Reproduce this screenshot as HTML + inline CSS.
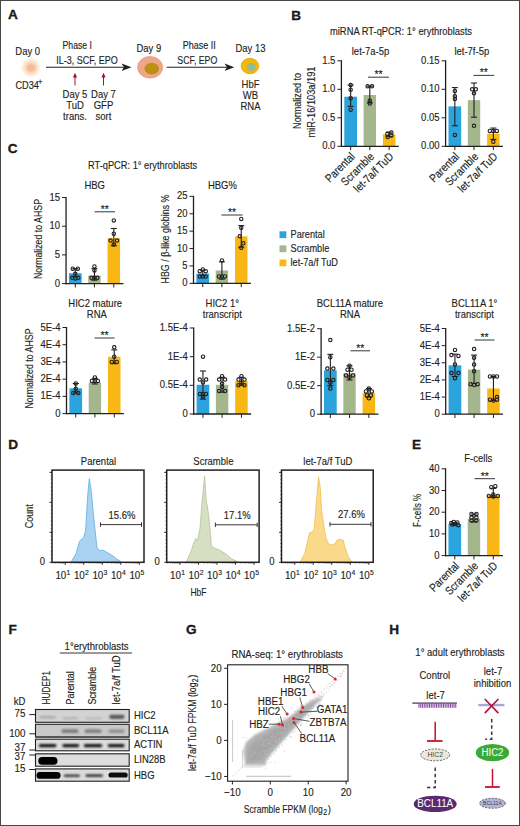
<!DOCTYPE html>
<html><head><meta charset="utf-8"><style>
html,body{margin:0;padding:0;background:#fff;}
body{width:520px;height:826px;overflow:hidden;position:relative;font-family:"Liberation Sans", sans-serif;}
svg{position:absolute;left:0;top:0;}
text{font-family:"Liberation Sans", sans-serif;}
.fr{position:absolute;left:0;top:0;width:518px;height:824px;border:1px solid #474747;}
</style></head><body>
<svg width="520" height="826" viewBox="0 0 520 826">
<defs>
<filter id="blur" x="-50%" y="-100%" width="200%" height="300%"><feGaussianBlur stdDeviation="0.85"/></filter>
<filter id="blur3" x="-50%" y="-100%" width="200%" height="300%"><feGaussianBlur stdDeviation="0.75"/></filter>
<filter id="blur2" x="-10%" y="-10%" width="120%" height="120%"><feGaussianBlur stdDeviation="0.8"/></filter>
<filter id="blur5" x="-50%" y="-50%" width="200%" height="200%"><feGaussianBlur stdDeviation="1.0"/></filter>
<filter id="blur4" x="-10%" y="-10%" width="120%" height="120%"><feGaussianBlur stdDeviation="1.5"/></filter>
</defs>
<text x="8.00" y="19.00" font-size="13.6" text-anchor="start" fill="#231f20" font-weight="bold" stroke="#000" stroke-width="0.3">A</text>
<text x="27.70" y="55.00" font-size="9.5" text-anchor="middle" fill="#231f20" stroke="#231f20" stroke-width="0.13" transform="translate(27.70 55.00) scale(1 1.17) translate(-27.70 -55.00)">Day 0</text>
<ellipse cx="30.80" cy="67.50" rx="8.60" ry="8.40" fill="#fce4cc" stroke="none" stroke-width="0.8" filter="url(#blur5)"/>
<ellipse cx="31.00" cy="67.80" rx="5.00" ry="4.60" fill="#f3bc9c" stroke="none" stroke-width="0.8" filter="url(#blur5)"/>
<text x="15.40" y="88.60" font-size="9.2" text-anchor="start" fill="#231f20" stroke="#231f20" stroke-width="0.13" transform="translate(15.40 88.60) scale(1 1.17) translate(-15.40 -88.60)">CD34</text>
<text x="38.00" y="85.00" font-size="7.5" text-anchor="start" fill="#231f20" stroke="#231f20" stroke-width="0.13" transform="translate(38.00 85.00) scale(1 1.17) translate(-38.00 -85.00)">+</text>
<line x1="46.00" y1="67.20" x2="124.00" y2="67.20" stroke="#231f20" stroke-width="1.1"/>
<path d="M121.5,63.5 L131.5,67.2 L121.5,71 L124,67.2 Z" fill="#231f20" stroke="none" stroke-width="1"/>
<text x="77.30" y="49.00" font-size="9.5" text-anchor="middle" fill="#231f20" stroke="#231f20" stroke-width="0.13" transform="translate(77.30 49.00) scale(1 1.17) translate(-77.30 -49.00)" textLength="29.50" lengthAdjust="spacingAndGlyphs">Phase I</text>
<text x="86.90" y="64.00" font-size="9.5" text-anchor="middle" fill="#231f20" stroke="#231f20" stroke-width="0.13" transform="translate(86.90 64.00) scale(1 1.17) translate(-86.90 -64.00)" textLength="61.50" lengthAdjust="spacingAndGlyphs">IL-3, SCF, EPO</text>
<line x1="75.00" y1="76.00" x2="75.00" y2="85.50" stroke="#a8102c" stroke-width="1.0"/>
<path d="M72.9,77.6 L75.0,72.8 L77.1,77.6 Z" fill="#a8102c" stroke="none" stroke-width="1"/>
<line x1="103.50" y1="76.00" x2="103.50" y2="85.50" stroke="#a8102c" stroke-width="1.0"/>
<path d="M101.4,77.6 L103.5,72.8 L105.6,77.6 Z" fill="#a8102c" stroke="none" stroke-width="1"/>
<text x="75.00" y="98.00" font-size="9.5" text-anchor="middle" fill="#231f20" stroke="#231f20" stroke-width="0.13" transform="translate(75.00 98.00) scale(1 1.17) translate(-75.00 -98.00)">Day 5</text>
<text x="75.00" y="109.00" font-size="9.5" text-anchor="middle" fill="#231f20" stroke="#231f20" stroke-width="0.13" transform="translate(75.00 109.00) scale(1 1.17) translate(-75.00 -109.00)">TuD</text>
<text x="75.00" y="120.20" font-size="9.5" text-anchor="middle" fill="#231f20" stroke="#231f20" stroke-width="0.13" transform="translate(75.00 120.20) scale(1 1.17) translate(-75.00 -120.20)">trans.</text>
<text x="103.50" y="98.00" font-size="9.5" text-anchor="middle" fill="#231f20" stroke="#231f20" stroke-width="0.13" transform="translate(103.50 98.00) scale(1 1.17) translate(-103.50 -98.00)">Day 7</text>
<text x="103.50" y="109.00" font-size="9.5" text-anchor="middle" fill="#231f20" stroke="#231f20" stroke-width="0.13" transform="translate(103.50 109.00) scale(1 1.17) translate(-103.50 -109.00)">GFP</text>
<text x="103.50" y="120.20" font-size="9.5" text-anchor="middle" fill="#231f20" stroke="#231f20" stroke-width="0.13" transform="translate(103.50 120.20) scale(1 1.17) translate(-103.50 -120.20)">sort</text>
<text x="148.80" y="52.00" font-size="9.5" text-anchor="middle" fill="#231f20" stroke="#231f20" stroke-width="0.13" transform="translate(148.80 52.00) scale(1 1.17) translate(-148.80 -52.00)">Day 9</text>
<ellipse cx="150.10" cy="67.30" rx="12.60" ry="10.80" fill="#eea786" stroke="#e79a80" stroke-width="0.8"/>
<ellipse cx="151.70" cy="68.60" rx="6.80" ry="5.40" fill="#bf8f12" stroke="#a97f1e" stroke-width="0.6"/>
<text x="199.20" y="49.00" font-size="9.5" text-anchor="middle" fill="#231f20" stroke="#231f20" stroke-width="0.13" transform="translate(199.20 49.00) scale(1 1.17) translate(-199.20 -49.00)" textLength="33.00" lengthAdjust="spacingAndGlyphs">Phase II</text>
<text x="197.30" y="64.00" font-size="9.5" text-anchor="middle" fill="#231f20" stroke="#231f20" stroke-width="0.13" transform="translate(197.30 64.00) scale(1 1.17) translate(-197.30 -64.00)" textLength="40.00" lengthAdjust="spacingAndGlyphs">SCF, EPO</text>
<line x1="166.70" y1="67.20" x2="227.00" y2="67.20" stroke="#231f20" stroke-width="1.1"/>
<path d="M224.5,63.5 L234.3,67.2 L224.5,71 L227,67.2 Z" fill="#231f20" stroke="none" stroke-width="1"/>
<text x="250.50" y="52.30" font-size="9.5" text-anchor="middle" fill="#231f20" stroke="#231f20" stroke-width="0.13" transform="translate(250.50 52.30) scale(1 1.17) translate(-250.50 -52.30)">Day 13</text>
<ellipse cx="249.90" cy="66.00" rx="8.80" ry="7.80" fill="#f4b800" stroke="#e9a513" stroke-width="0.8"/>
<ellipse cx="251.20" cy="67.00" rx="4.50" ry="4.20" fill="#92bb90" stroke="#d9b060" stroke-width="0.5"/>
<text x="250.50" y="87.70" font-size="9.5" text-anchor="middle" fill="#231f20" stroke="#231f20" stroke-width="0.13" transform="translate(250.50 87.70) scale(1 1.17) translate(-250.50 -87.70)">HbF</text>
<text x="250.50" y="99.00" font-size="9.5" text-anchor="middle" fill="#231f20" stroke="#231f20" stroke-width="0.13" transform="translate(250.50 99.00) scale(1 1.17) translate(-250.50 -99.00)">WB</text>
<text x="250.50" y="110.30" font-size="9.5" text-anchor="middle" fill="#231f20" stroke="#231f20" stroke-width="0.13" transform="translate(250.50 110.30) scale(1 1.17) translate(-250.50 -110.30)">RNA</text>
<text x="291.20" y="19.50" font-size="13.6" text-anchor="start" fill="#231f20" font-weight="bold" stroke="#000" stroke-width="0.3">B</text>
<text x="401.00" y="35.00" font-size="9.5" text-anchor="middle" fill="#231f20" stroke="#231f20" stroke-width="0.13" transform="translate(401.00 35.00) scale(1 1.17) translate(-401.00 -35.00)" textLength="142.00" lengthAdjust="spacingAndGlyphs">miRNA RT-qPCR: 1° erythroblasts</text>
<text x="370.50" y="54.60" font-size="9.5" text-anchor="middle" fill="#231f20" stroke="#231f20" stroke-width="0.13" transform="translate(370.50 54.60) scale(1 1.17) translate(-370.50 -54.60)">let-7a-5p</text>
<text x="471.80" y="54.60" font-size="9.5" text-anchor="middle" fill="#231f20" stroke="#231f20" stroke-width="0.13" transform="translate(471.80 54.60) scale(1 1.17) translate(-471.80 -54.60)">let-7f-5p</text>
<text x="301.10" y="100.90" font-size="10.8" text-anchor="middle" fill="#231f20" stroke="#231f20" stroke-width="0.13" transform="translate(301.10 100.90) rotate(-90) translate(-301.10 -100.90)" textLength="56.00" lengthAdjust="spacingAndGlyphs">Normalized to</text>
<text x="315.40" y="102.00" font-size="10.8" text-anchor="middle" fill="#231f20" stroke="#231f20" stroke-width="0.13" transform="translate(315.40 102.00) rotate(-90) translate(-315.40 -102.00)" textLength="71.00" lengthAdjust="spacingAndGlyphs">miR-16/103a/191</text>
<rect x="344.30" y="96.71" width="12.70" height="49.59" fill="#2ba3dc"/>
<rect x="363.60" y="95.00" width="12.40" height="51.30" fill="#a4b78c"/>
<rect x="382.90" y="134.33" width="12.50" height="11.97" fill="#f9b715"/>
<line x1="350.65" y1="106.40" x2="350.65" y2="85.08" stroke="#231f20" stroke-width="1.1"/>
<line x1="347.65" y1="106.40" x2="353.65" y2="106.40" stroke="#231f20" stroke-width="1.1"/>
<line x1="347.65" y1="85.08" x2="353.65" y2="85.08" stroke="#231f20" stroke-width="1.1"/>
<circle cx="350.65" cy="85.08" r="1.70" fill="none" stroke="#231f20" stroke-width="1.1"/>
<circle cx="350.65" cy="89.70" r="1.70" fill="none" stroke="#231f20" stroke-width="1.1"/>
<circle cx="350.65" cy="98.31" r="1.70" fill="none" stroke="#231f20" stroke-width="1.1"/>
<circle cx="350.65" cy="109.71" r="1.70" fill="none" stroke="#231f20" stroke-width="1.1"/>
<line x1="369.80" y1="102.98" x2="369.80" y2="86.28" stroke="#231f20" stroke-width="1.1"/>
<line x1="366.80" y1="102.98" x2="372.80" y2="102.98" stroke="#231f20" stroke-width="1.1"/>
<line x1="366.80" y1="86.28" x2="372.80" y2="86.28" stroke="#231f20" stroke-width="1.1"/>
<circle cx="367.60" cy="86.28" r="1.70" fill="none" stroke="#231f20" stroke-width="1.1"/>
<circle cx="372.00" cy="86.28" r="1.70" fill="none" stroke="#231f20" stroke-width="1.1"/>
<circle cx="369.80" cy="100.70" r="1.70" fill="none" stroke="#231f20" stroke-width="1.1"/>
<circle cx="369.80" cy="103.55" r="1.70" fill="none" stroke="#231f20" stroke-width="1.1"/>
<line x1="389.15" y1="136.61" x2="389.15" y2="132.05" stroke="#231f20" stroke-width="1.1"/>
<line x1="386.15" y1="136.61" x2="392.15" y2="136.61" stroke="#231f20" stroke-width="1.1"/>
<line x1="386.15" y1="132.05" x2="392.15" y2="132.05" stroke="#231f20" stroke-width="1.1"/>
<circle cx="391.35" cy="132.39" r="1.70" fill="none" stroke="#231f20" stroke-width="1.1"/>
<circle cx="387.35" cy="134.10" r="1.70" fill="none" stroke="#231f20" stroke-width="1.1"/>
<circle cx="387.65" cy="137.01" r="1.70" fill="none" stroke="#231f20" stroke-width="1.1"/>
<circle cx="391.35" cy="135.47" r="1.70" fill="none" stroke="#231f20" stroke-width="1.1"/>
<line x1="341.40" y1="60.30" x2="341.40" y2="146.90" stroke="#231f20" stroke-width="1.3"/>
<line x1="340.80" y1="146.30" x2="398.80" y2="146.30" stroke="#231f20" stroke-width="1.3"/>
<line x1="337.40" y1="146.30" x2="341.40" y2="146.30" stroke="#231f20" stroke-width="1"/>
<text x="335.40" y="149.40" font-size="9.5" text-anchor="end" fill="#231f20" stroke="#231f20" stroke-width="0.13" transform="translate(335.40 149.40) scale(1 1.17) translate(-335.40 -149.40)">0.0</text>
<line x1="337.40" y1="117.80" x2="341.40" y2="117.80" stroke="#231f20" stroke-width="1"/>
<text x="335.40" y="120.90" font-size="9.5" text-anchor="end" fill="#231f20" stroke="#231f20" stroke-width="0.13" transform="translate(335.40 120.90) scale(1 1.17) translate(-335.40 -120.90)">0.5</text>
<line x1="337.40" y1="89.30" x2="341.40" y2="89.30" stroke="#231f20" stroke-width="1"/>
<text x="335.40" y="92.40" font-size="9.5" text-anchor="end" fill="#231f20" stroke="#231f20" stroke-width="0.13" transform="translate(335.40 92.40) scale(1 1.17) translate(-335.40 -92.40)">1.0</text>
<line x1="337.40" y1="60.80" x2="341.40" y2="60.80" stroke="#231f20" stroke-width="1"/>
<text x="335.40" y="63.90" font-size="9.5" text-anchor="end" fill="#231f20" stroke="#231f20" stroke-width="0.13" transform="translate(335.40 63.90) scale(1 1.17) translate(-335.40 -63.90)">1.5</text>
<line x1="350.65" y1="146.30" x2="350.65" y2="150.10" stroke="#231f20" stroke-width="1"/>
<line x1="369.80" y1="146.30" x2="369.80" y2="150.10" stroke="#231f20" stroke-width="1"/>
<line x1="389.15" y1="146.30" x2="389.15" y2="150.10" stroke="#231f20" stroke-width="1"/>
<line x1="368.00" y1="77.20" x2="389.00" y2="77.20" stroke="#231f20" stroke-width="0.9"/>
<text x="378.50" y="78.00" font-size="10.5" text-anchor="middle" fill="#231f20" stroke="#231f20" stroke-width="0.13">**</text>
<text x="355.65" y="157.30" font-size="9.8" text-anchor="end" fill="#231f20" stroke="#231f20" stroke-width="0.13" transform="translate(355.65 157.30) rotate(-45) scale(1 1.17) translate(-355.65 -157.30)">Parental</text>
<text x="374.80" y="157.30" font-size="9.8" text-anchor="end" fill="#231f20" stroke="#231f20" stroke-width="0.13" transform="translate(374.80 157.30) rotate(-45) scale(1 1.17) translate(-374.80 -157.30)">Scramble</text>
<text x="394.15" y="157.30" font-size="9.8" text-anchor="end" fill="#231f20" stroke="#231f20" stroke-width="0.13" transform="translate(394.15 157.30) rotate(-45) scale(1 1.17) translate(-394.15 -157.30)">let-7a/f TuD</text>
<rect x="448.50" y="106.40" width="12.70" height="39.90" fill="#2ba3dc"/>
<rect x="467.80" y="100.13" width="12.40" height="46.17" fill="#a4b78c"/>
<rect x="487.10" y="133.76" width="12.50" height="12.54" fill="#f9b715"/>
<line x1="454.85" y1="125.78" x2="454.85" y2="87.59" stroke="#231f20" stroke-width="1.1"/>
<line x1="451.85" y1="125.78" x2="457.85" y2="125.78" stroke="#231f20" stroke-width="1.1"/>
<line x1="451.85" y1="87.59" x2="457.85" y2="87.59" stroke="#231f20" stroke-width="1.1"/>
<circle cx="454.85" cy="91.01" r="1.70" fill="none" stroke="#231f20" stroke-width="1.1"/>
<circle cx="454.85" cy="96.14" r="1.70" fill="none" stroke="#231f20" stroke-width="1.1"/>
<circle cx="454.85" cy="98.99" r="1.70" fill="none" stroke="#231f20" stroke-width="1.1"/>
<circle cx="454.85" cy="134.90" r="1.70" fill="none" stroke="#231f20" stroke-width="1.1"/>
<line x1="474.00" y1="117.23" x2="474.00" y2="83.03" stroke="#231f20" stroke-width="1.1"/>
<line x1="471.00" y1="117.23" x2="477.00" y2="117.23" stroke="#231f20" stroke-width="1.1"/>
<line x1="471.00" y1="83.03" x2="477.00" y2="83.03" stroke="#231f20" stroke-width="1.1"/>
<circle cx="472.20" cy="89.30" r="1.70" fill="none" stroke="#231f20" stroke-width="1.1"/>
<circle cx="475.80" cy="89.30" r="1.70" fill="none" stroke="#231f20" stroke-width="1.1"/>
<circle cx="474.00" cy="93.29" r="1.70" fill="none" stroke="#231f20" stroke-width="1.1"/>
<circle cx="474.00" cy="125.78" r="1.70" fill="none" stroke="#231f20" stroke-width="1.1"/>
<line x1="493.35" y1="139.46" x2="493.35" y2="128.06" stroke="#231f20" stroke-width="1.1"/>
<line x1="490.35" y1="139.46" x2="496.35" y2="139.46" stroke="#231f20" stroke-width="1.1"/>
<line x1="490.35" y1="128.06" x2="496.35" y2="128.06" stroke="#231f20" stroke-width="1.1"/>
<circle cx="489.85" cy="130.91" r="1.70" fill="none" stroke="#231f20" stroke-width="1.1"/>
<circle cx="493.35" cy="130.91" r="1.70" fill="none" stroke="#231f20" stroke-width="1.1"/>
<circle cx="496.85" cy="130.91" r="1.70" fill="none" stroke="#231f20" stroke-width="1.1"/>
<circle cx="493.35" cy="141.74" r="1.70" fill="none" stroke="#231f20" stroke-width="1.1"/>
<line x1="445.60" y1="60.30" x2="445.60" y2="146.90" stroke="#231f20" stroke-width="1.3"/>
<line x1="445.00" y1="146.30" x2="503.00" y2="146.30" stroke="#231f20" stroke-width="1.3"/>
<line x1="441.60" y1="146.30" x2="445.60" y2="146.30" stroke="#231f20" stroke-width="1"/>
<text x="439.60" y="149.40" font-size="9.5" text-anchor="end" fill="#231f20" stroke="#231f20" stroke-width="0.13" transform="translate(439.60 149.40) scale(1 1.17) translate(-439.60 -149.40)">0.00</text>
<line x1="441.60" y1="117.80" x2="445.60" y2="117.80" stroke="#231f20" stroke-width="1"/>
<text x="439.60" y="120.90" font-size="9.5" text-anchor="end" fill="#231f20" stroke="#231f20" stroke-width="0.13" transform="translate(439.60 120.90) scale(1 1.17) translate(-439.60 -120.90)">0.05</text>
<line x1="441.60" y1="89.30" x2="445.60" y2="89.30" stroke="#231f20" stroke-width="1"/>
<text x="439.60" y="92.40" font-size="9.5" text-anchor="end" fill="#231f20" stroke="#231f20" stroke-width="0.13" transform="translate(439.60 92.40) scale(1 1.17) translate(-439.60 -92.40)">0.10</text>
<line x1="441.60" y1="60.80" x2="445.60" y2="60.80" stroke="#231f20" stroke-width="1"/>
<text x="439.60" y="63.90" font-size="9.5" text-anchor="end" fill="#231f20" stroke="#231f20" stroke-width="0.13" transform="translate(439.60 63.90) scale(1 1.17) translate(-439.60 -63.90)">0.15</text>
<line x1="454.85" y1="146.30" x2="454.85" y2="150.10" stroke="#231f20" stroke-width="1"/>
<line x1="474.00" y1="146.30" x2="474.00" y2="150.10" stroke="#231f20" stroke-width="1"/>
<line x1="493.35" y1="146.30" x2="493.35" y2="150.10" stroke="#231f20" stroke-width="1"/>
<line x1="473.40" y1="75.40" x2="494.20" y2="75.40" stroke="#231f20" stroke-width="0.9"/>
<text x="483.80" y="76.20" font-size="10.5" text-anchor="middle" fill="#231f20" stroke="#231f20" stroke-width="0.13">**</text>
<text x="459.85" y="157.30" font-size="9.8" text-anchor="end" fill="#231f20" stroke="#231f20" stroke-width="0.13" transform="translate(459.85 157.30) rotate(-45) scale(1 1.17) translate(-459.85 -157.30)">Parental</text>
<text x="479.00" y="157.30" font-size="9.8" text-anchor="end" fill="#231f20" stroke="#231f20" stroke-width="0.13" transform="translate(479.00 157.30) rotate(-45) scale(1 1.17) translate(-479.00 -157.30)">Scramble</text>
<text x="498.35" y="157.30" font-size="9.8" text-anchor="end" fill="#231f20" stroke="#231f20" stroke-width="0.13" transform="translate(498.35 157.30) rotate(-45) scale(1 1.17) translate(-498.35 -157.30)">let-7a/f TuD</text>
<text x="7.80" y="152.50" font-size="13.6" text-anchor="start" fill="#231f20" font-weight="bold" stroke="#000" stroke-width="0.3">C</text>
<text x="142.60" y="168.70" font-size="9.5" text-anchor="middle" fill="#231f20" stroke="#231f20" stroke-width="0.13" transform="translate(142.60 168.70) scale(1 1.17) translate(-142.60 -168.70)" textLength="109.30" lengthAdjust="spacingAndGlyphs">RT-qPCR: 1° erythroblasts</text>
<text x="94.70" y="188.70" font-size="9.5" text-anchor="middle" fill="#231f20" stroke="#231f20" stroke-width="0.13" transform="translate(94.70 188.70) scale(1 1.17) translate(-94.70 -188.70)">HBG</text>
<text x="222.40" y="189.00" font-size="9.5" text-anchor="middle" fill="#231f20" stroke="#231f20" stroke-width="0.13" transform="translate(222.40 189.00) scale(1 1.17) translate(-222.40 -189.00)">HBG%</text>
<text x="42.00" y="239.00" font-size="10.8" text-anchor="middle" fill="#231f20" stroke="#231f20" stroke-width="0.13" transform="translate(42.00 239.00) rotate(-90) translate(-42.00 -239.00)" textLength="80.00" lengthAdjust="spacingAndGlyphs">Normalized to AHSP</text>
<text x="169.40" y="239.00" font-size="10.8" text-anchor="middle" fill="#231f20" stroke="#231f20" stroke-width="0.13" transform="translate(169.40 239.00) rotate(-90) translate(-169.40 -239.00)" textLength="89.00" lengthAdjust="spacingAndGlyphs">HBG / β-like globins %</text>
<rect x="68.95" y="273.27" width="12.70" height="10.33" fill="#2ba3dc"/>
<rect x="88.25" y="275.56" width="12.40" height="8.04" fill="#a4b78c"/>
<rect x="107.55" y="238.25" width="12.50" height="45.35" fill="#f9b715"/>
<line x1="75.30" y1="276.71" x2="75.30" y2="268.68" stroke="#231f20" stroke-width="1.1"/>
<line x1="72.30" y1="276.71" x2="78.30" y2="276.71" stroke="#231f20" stroke-width="1.1"/>
<line x1="72.30" y1="268.68" x2="78.30" y2="268.68" stroke="#231f20" stroke-width="1.1"/>
<circle cx="72.80" cy="268.68" r="1.70" fill="none" stroke="#231f20" stroke-width="1.1"/>
<circle cx="77.80" cy="268.68" r="1.70" fill="none" stroke="#231f20" stroke-width="1.1"/>
<circle cx="75.30" cy="273.84" r="1.70" fill="none" stroke="#231f20" stroke-width="1.1"/>
<circle cx="72.30" cy="277.86" r="1.70" fill="none" stroke="#231f20" stroke-width="1.1"/>
<circle cx="78.30" cy="277.86" r="1.70" fill="none" stroke="#231f20" stroke-width="1.1"/>
<circle cx="75.30" cy="278.43" r="1.70" fill="none" stroke="#231f20" stroke-width="1.1"/>
<line x1="94.45" y1="280.16" x2="94.45" y2="268.68" stroke="#231f20" stroke-width="1.1"/>
<line x1="91.45" y1="280.16" x2="97.45" y2="280.16" stroke="#231f20" stroke-width="1.1"/>
<line x1="91.45" y1="268.68" x2="97.45" y2="268.68" stroke="#231f20" stroke-width="1.1"/>
<circle cx="94.45" cy="266.38" r="1.70" fill="none" stroke="#231f20" stroke-width="1.1"/>
<circle cx="94.45" cy="270.40" r="1.70" fill="none" stroke="#231f20" stroke-width="1.1"/>
<circle cx="91.45" cy="277.86" r="1.70" fill="none" stroke="#231f20" stroke-width="1.1"/>
<circle cx="94.45" cy="277.86" r="1.70" fill="none" stroke="#231f20" stroke-width="1.1"/>
<circle cx="97.45" cy="277.86" r="1.70" fill="none" stroke="#231f20" stroke-width="1.1"/>
<line x1="113.80" y1="245.72" x2="113.80" y2="228.50" stroke="#231f20" stroke-width="1.1"/>
<line x1="110.80" y1="245.72" x2="116.80" y2="245.72" stroke="#231f20" stroke-width="1.1"/>
<line x1="110.80" y1="228.50" x2="116.80" y2="228.50" stroke="#231f20" stroke-width="1.1"/>
<circle cx="113.80" cy="220.46" r="1.70" fill="none" stroke="#231f20" stroke-width="1.1"/>
<circle cx="113.80" cy="233.66" r="1.70" fill="none" stroke="#231f20" stroke-width="1.1"/>
<circle cx="110.60" cy="240.55" r="1.70" fill="none" stroke="#231f20" stroke-width="1.1"/>
<circle cx="117.00" cy="240.55" r="1.70" fill="none" stroke="#231f20" stroke-width="1.1"/>
<circle cx="113.80" cy="244.57" r="1.70" fill="none" stroke="#231f20" stroke-width="1.1"/>
<line x1="66.05" y1="197.00" x2="66.05" y2="284.20" stroke="#231f20" stroke-width="1.3"/>
<line x1="65.45" y1="283.60" x2="123.45" y2="283.60" stroke="#231f20" stroke-width="1.3"/>
<line x1="62.05" y1="283.60" x2="66.05" y2="283.60" stroke="#231f20" stroke-width="1"/>
<text x="60.05" y="286.70" font-size="9.5" text-anchor="end" fill="#231f20" stroke="#231f20" stroke-width="0.13" transform="translate(60.05 286.70) scale(1 1.17) translate(-60.05 -286.70)">0</text>
<line x1="62.05" y1="254.90" x2="66.05" y2="254.90" stroke="#231f20" stroke-width="1"/>
<text x="60.05" y="258.00" font-size="9.5" text-anchor="end" fill="#231f20" stroke="#231f20" stroke-width="0.13" transform="translate(60.05 258.00) scale(1 1.17) translate(-60.05 -258.00)">5</text>
<line x1="62.05" y1="226.20" x2="66.05" y2="226.20" stroke="#231f20" stroke-width="1"/>
<text x="60.05" y="229.30" font-size="9.5" text-anchor="end" fill="#231f20" stroke="#231f20" stroke-width="0.13" transform="translate(60.05 229.30) scale(1 1.17) translate(-60.05 -229.30)">10</text>
<line x1="62.05" y1="197.50" x2="66.05" y2="197.50" stroke="#231f20" stroke-width="1"/>
<text x="60.05" y="200.60" font-size="9.5" text-anchor="end" fill="#231f20" stroke="#231f20" stroke-width="0.13" transform="translate(60.05 200.60) scale(1 1.17) translate(-60.05 -200.60)">15</text>
<line x1="75.30" y1="283.60" x2="75.30" y2="287.40" stroke="#231f20" stroke-width="1"/>
<line x1="94.45" y1="283.60" x2="94.45" y2="287.40" stroke="#231f20" stroke-width="1"/>
<line x1="113.80" y1="283.60" x2="113.80" y2="287.40" stroke="#231f20" stroke-width="1"/>
<line x1="94.50" y1="211.80" x2="115.00" y2="211.80" stroke="#231f20" stroke-width="0.9"/>
<text x="104.75" y="212.60" font-size="10.5" text-anchor="middle" fill="#231f20" stroke="#231f20" stroke-width="0.13">**</text>
<rect x="196.40" y="273.61" width="12.70" height="9.74" fill="#2ba3dc"/>
<rect x="215.70" y="270.47" width="12.40" height="12.88" fill="#a4b78c"/>
<rect x="235.00" y="236.37" width="12.50" height="46.98" fill="#f9b715"/>
<line x1="202.75" y1="275.69" x2="202.75" y2="270.13" stroke="#231f20" stroke-width="1.1"/>
<line x1="199.75" y1="275.69" x2="205.75" y2="275.69" stroke="#231f20" stroke-width="1.1"/>
<line x1="199.75" y1="270.13" x2="205.75" y2="270.13" stroke="#231f20" stroke-width="1.1"/>
<circle cx="202.75" cy="269.43" r="1.70" fill="none" stroke="#231f20" stroke-width="1.1"/>
<circle cx="199.75" cy="271.17" r="1.70" fill="none" stroke="#231f20" stroke-width="1.1"/>
<circle cx="205.75" cy="271.17" r="1.70" fill="none" stroke="#231f20" stroke-width="1.1"/>
<circle cx="199.75" cy="276.39" r="1.70" fill="none" stroke="#231f20" stroke-width="1.1"/>
<circle cx="202.75" cy="276.39" r="1.70" fill="none" stroke="#231f20" stroke-width="1.1"/>
<circle cx="205.75" cy="276.39" r="1.70" fill="none" stroke="#231f20" stroke-width="1.1"/>
<line x1="221.90" y1="279.17" x2="221.90" y2="261.77" stroke="#231f20" stroke-width="1.1"/>
<line x1="218.90" y1="279.17" x2="224.90" y2="279.17" stroke="#231f20" stroke-width="1.1"/>
<line x1="218.90" y1="261.77" x2="224.90" y2="261.77" stroke="#231f20" stroke-width="1.1"/>
<circle cx="221.90" cy="260.38" r="1.70" fill="none" stroke="#231f20" stroke-width="1.1"/>
<circle cx="218.90" cy="276.39" r="1.70" fill="none" stroke="#231f20" stroke-width="1.1"/>
<circle cx="221.90" cy="276.39" r="1.70" fill="none" stroke="#231f20" stroke-width="1.1"/>
<circle cx="224.90" cy="276.39" r="1.70" fill="none" stroke="#231f20" stroke-width="1.1"/>
<line x1="241.25" y1="247.16" x2="241.25" y2="225.58" stroke="#231f20" stroke-width="1.1"/>
<line x1="238.25" y1="247.16" x2="244.25" y2="247.16" stroke="#231f20" stroke-width="1.1"/>
<line x1="238.25" y1="225.58" x2="244.25" y2="225.58" stroke="#231f20" stroke-width="1.1"/>
<circle cx="241.25" cy="218.97" r="1.70" fill="none" stroke="#231f20" stroke-width="1.1"/>
<circle cx="241.25" cy="227.67" r="1.70" fill="none" stroke="#231f20" stroke-width="1.1"/>
<circle cx="239.75" cy="236.37" r="1.70" fill="none" stroke="#231f20" stroke-width="1.1"/>
<circle cx="243.25" cy="243.33" r="1.70" fill="none" stroke="#231f20" stroke-width="1.1"/>
<circle cx="241.25" cy="247.85" r="1.70" fill="none" stroke="#231f20" stroke-width="1.1"/>
<line x1="193.50" y1="195.85" x2="193.50" y2="283.95" stroke="#231f20" stroke-width="1.3"/>
<line x1="192.90" y1="283.35" x2="250.90" y2="283.35" stroke="#231f20" stroke-width="1.3"/>
<line x1="189.50" y1="283.35" x2="193.50" y2="283.35" stroke="#231f20" stroke-width="1"/>
<text x="187.50" y="286.45" font-size="9.5" text-anchor="end" fill="#231f20" stroke="#231f20" stroke-width="0.13" transform="translate(187.50 286.45) scale(1 1.17) translate(-187.50 -286.45)">0</text>
<line x1="189.50" y1="265.95" x2="193.50" y2="265.95" stroke="#231f20" stroke-width="1"/>
<text x="187.50" y="269.05" font-size="9.5" text-anchor="end" fill="#231f20" stroke="#231f20" stroke-width="0.13" transform="translate(187.50 269.05) scale(1 1.17) translate(-187.50 -269.05)">5</text>
<line x1="189.50" y1="248.55" x2="193.50" y2="248.55" stroke="#231f20" stroke-width="1"/>
<text x="187.50" y="251.65" font-size="9.5" text-anchor="end" fill="#231f20" stroke="#231f20" stroke-width="0.13" transform="translate(187.50 251.65) scale(1 1.17) translate(-187.50 -251.65)">10</text>
<line x1="189.50" y1="231.15" x2="193.50" y2="231.15" stroke="#231f20" stroke-width="1"/>
<text x="187.50" y="234.25" font-size="9.5" text-anchor="end" fill="#231f20" stroke="#231f20" stroke-width="0.13" transform="translate(187.50 234.25) scale(1 1.17) translate(-187.50 -234.25)">15</text>
<line x1="189.50" y1="213.75" x2="193.50" y2="213.75" stroke="#231f20" stroke-width="1"/>
<text x="187.50" y="216.85" font-size="9.5" text-anchor="end" fill="#231f20" stroke="#231f20" stroke-width="0.13" transform="translate(187.50 216.85) scale(1 1.17) translate(-187.50 -216.85)">20</text>
<line x1="189.50" y1="196.35" x2="193.50" y2="196.35" stroke="#231f20" stroke-width="1"/>
<text x="187.50" y="199.45" font-size="9.5" text-anchor="end" fill="#231f20" stroke="#231f20" stroke-width="0.13" transform="translate(187.50 199.45) scale(1 1.17) translate(-187.50 -199.45)">25</text>
<line x1="202.75" y1="283.35" x2="202.75" y2="287.15" stroke="#231f20" stroke-width="1"/>
<line x1="221.90" y1="283.35" x2="221.90" y2="287.15" stroke="#231f20" stroke-width="1"/>
<line x1="241.25" y1="283.35" x2="241.25" y2="287.15" stroke="#231f20" stroke-width="1"/>
<line x1="221.50" y1="215.00" x2="242.60" y2="215.00" stroke="#231f20" stroke-width="0.9"/>
<text x="232.05" y="215.80" font-size="10.5" text-anchor="middle" fill="#231f20" stroke="#231f20" stroke-width="0.13">**</text>
<rect x="279.50" y="231.30" width="6.80" height="6.80" fill="#2ba3dc"/>
<text x="290.50" y="238.30" font-size="9.2" text-anchor="start" fill="#231f20" stroke="#231f20" stroke-width="0.13" transform="translate(290.50 238.30) scale(1 1.17) translate(-290.50 -238.30)">Parental</text>
<rect x="279.50" y="245.40" width="6.80" height="6.80" fill="#a4b78c"/>
<text x="290.50" y="252.40" font-size="9.2" text-anchor="start" fill="#231f20" stroke="#231f20" stroke-width="0.13" transform="translate(290.50 252.40) scale(1 1.17) translate(-290.50 -252.40)">Scramble</text>
<rect x="279.50" y="259.50" width="6.80" height="6.80" fill="#f9b715"/>
<text x="290.50" y="266.50" font-size="9.2" text-anchor="start" fill="#231f20" stroke="#231f20" stroke-width="0.13" transform="translate(290.50 266.50) scale(1 1.17) translate(-290.50 -266.50)">let-7a/f TuD</text>
<text x="95.20" y="307.50" font-size="9.5" text-anchor="middle" fill="#231f20" stroke="#231f20" stroke-width="0.13" transform="translate(95.20 307.50) scale(1 1.17) translate(-95.20 -307.50)">HIC2 mature</text>
<text x="96.90" y="318.00" font-size="9.5" text-anchor="middle" fill="#231f20" stroke="#231f20" stroke-width="0.13" transform="translate(96.90 318.00) scale(1 1.17) translate(-96.90 -318.00)">RNA</text>
<text x="33.20" y="368.50" font-size="10.8" text-anchor="middle" fill="#231f20" stroke="#231f20" stroke-width="0.13" transform="translate(33.20 368.50) rotate(-90) translate(-33.20 -368.50)" textLength="80.00" lengthAdjust="spacingAndGlyphs">Normalized to AHSP</text>
<rect x="69.40" y="388.29" width="12.70" height="25.31" fill="#2ba3dc"/>
<rect x="88.70" y="382.60" width="12.40" height="31.00" fill="#a4b78c"/>
<rect x="108.00" y="356.77" width="12.50" height="56.83" fill="#f9b715"/>
<line x1="75.75" y1="392.94" x2="75.75" y2="383.47" stroke="#231f20" stroke-width="1.1"/>
<line x1="72.75" y1="392.94" x2="78.75" y2="392.94" stroke="#231f20" stroke-width="1.1"/>
<line x1="72.75" y1="383.47" x2="78.75" y2="383.47" stroke="#231f20" stroke-width="1.1"/>
<circle cx="75.75" cy="383.47" r="1.70" fill="none" stroke="#231f20" stroke-width="1.1"/>
<circle cx="75.75" cy="388.63" r="1.70" fill="none" stroke="#231f20" stroke-width="1.1"/>
<circle cx="73.25" cy="392.94" r="1.70" fill="none" stroke="#231f20" stroke-width="1.1"/>
<circle cx="78.25" cy="392.94" r="1.70" fill="none" stroke="#231f20" stroke-width="1.1"/>
<line x1="94.90" y1="383.98" x2="94.90" y2="378.30" stroke="#231f20" stroke-width="1.1"/>
<line x1="91.90" y1="383.98" x2="97.90" y2="383.98" stroke="#231f20" stroke-width="1.1"/>
<line x1="91.90" y1="378.30" x2="97.90" y2="378.30" stroke="#231f20" stroke-width="1.1"/>
<circle cx="94.90" cy="377.44" r="1.70" fill="none" stroke="#231f20" stroke-width="1.1"/>
<circle cx="91.90" cy="380.88" r="1.70" fill="none" stroke="#231f20" stroke-width="1.1"/>
<circle cx="94.90" cy="380.88" r="1.70" fill="none" stroke="#231f20" stroke-width="1.1"/>
<circle cx="97.90" cy="380.88" r="1.70" fill="none" stroke="#231f20" stroke-width="1.1"/>
<line x1="114.25" y1="363.66" x2="114.25" y2="349.89" stroke="#231f20" stroke-width="1.1"/>
<line x1="111.25" y1="363.66" x2="117.25" y2="363.66" stroke="#231f20" stroke-width="1.1"/>
<line x1="111.25" y1="349.89" x2="117.25" y2="349.89" stroke="#231f20" stroke-width="1.1"/>
<circle cx="114.25" cy="347.30" r="1.70" fill="none" stroke="#231f20" stroke-width="1.1"/>
<circle cx="114.25" cy="356.77" r="1.70" fill="none" stroke="#231f20" stroke-width="1.1"/>
<circle cx="111.75" cy="361.94" r="1.70" fill="none" stroke="#231f20" stroke-width="1.1"/>
<circle cx="116.75" cy="361.94" r="1.70" fill="none" stroke="#231f20" stroke-width="1.1"/>
<line x1="66.50" y1="327.00" x2="66.50" y2="414.20" stroke="#231f20" stroke-width="1.3"/>
<line x1="65.90" y1="413.60" x2="123.90" y2="413.60" stroke="#231f20" stroke-width="1.3"/>
<line x1="62.50" y1="413.60" x2="66.50" y2="413.60" stroke="#231f20" stroke-width="1"/>
<text x="60.50" y="416.70" font-size="9.5" text-anchor="end" fill="#231f20" stroke="#231f20" stroke-width="0.13" transform="translate(60.50 416.70) scale(1 1.17) translate(-60.50 -416.70)">0</text>
<line x1="62.50" y1="396.38" x2="66.50" y2="396.38" stroke="#231f20" stroke-width="1"/>
<text x="60.50" y="399.48" font-size="9.5" text-anchor="end" fill="#231f20" stroke="#231f20" stroke-width="0.13" transform="translate(60.50 399.48) scale(1 1.17) translate(-60.50 -399.48)">1E-4</text>
<line x1="62.50" y1="379.16" x2="66.50" y2="379.16" stroke="#231f20" stroke-width="1"/>
<text x="60.50" y="382.26" font-size="9.5" text-anchor="end" fill="#231f20" stroke="#231f20" stroke-width="0.13" transform="translate(60.50 382.26) scale(1 1.17) translate(-60.50 -382.26)">2E-4</text>
<line x1="62.50" y1="361.94" x2="66.50" y2="361.94" stroke="#231f20" stroke-width="1"/>
<text x="60.50" y="365.04" font-size="9.5" text-anchor="end" fill="#231f20" stroke="#231f20" stroke-width="0.13" transform="translate(60.50 365.04) scale(1 1.17) translate(-60.50 -365.04)">3E-4</text>
<line x1="62.50" y1="344.72" x2="66.50" y2="344.72" stroke="#231f20" stroke-width="1"/>
<text x="60.50" y="347.82" font-size="9.5" text-anchor="end" fill="#231f20" stroke="#231f20" stroke-width="0.13" transform="translate(60.50 347.82) scale(1 1.17) translate(-60.50 -347.82)">4E-4</text>
<line x1="62.50" y1="327.50" x2="66.50" y2="327.50" stroke="#231f20" stroke-width="1"/>
<text x="60.50" y="330.60" font-size="9.5" text-anchor="end" fill="#231f20" stroke="#231f20" stroke-width="0.13" transform="translate(60.50 330.60) scale(1 1.17) translate(-60.50 -330.60)">5E-4</text>
<line x1="75.75" y1="413.60" x2="75.75" y2="417.40" stroke="#231f20" stroke-width="1"/>
<line x1="94.90" y1="413.60" x2="94.90" y2="417.40" stroke="#231f20" stroke-width="1"/>
<line x1="114.25" y1="413.60" x2="114.25" y2="417.40" stroke="#231f20" stroke-width="1"/>
<line x1="94.50" y1="338.00" x2="114.50" y2="338.00" stroke="#231f20" stroke-width="0.9"/>
<text x="104.50" y="338.80" font-size="10.5" text-anchor="middle" fill="#231f20" stroke="#231f20" stroke-width="0.13">**</text>
<text x="222.30" y="307.00" font-size="9.5" text-anchor="middle" fill="#231f20" stroke="#231f20" stroke-width="0.13" transform="translate(222.30 307.00) scale(1 1.17) translate(-222.30 -307.00)">HIC2 1°</text>
<text x="222.30" y="318.00" font-size="9.5" text-anchor="middle" fill="#231f20" stroke="#231f20" stroke-width="0.13" transform="translate(222.30 318.00) scale(1 1.17) translate(-222.30 -318.00)">transcript</text>
<rect x="196.60" y="384.76" width="12.70" height="29.24" fill="#2ba3dc"/>
<rect x="215.90" y="384.76" width="12.40" height="29.24" fill="#a4b78c"/>
<rect x="235.20" y="381.09" width="12.50" height="32.91" fill="#f9b715"/>
<line x1="202.95" y1="399.09" x2="202.95" y2="371.00" stroke="#231f20" stroke-width="1.1"/>
<line x1="199.95" y1="399.09" x2="205.95" y2="399.09" stroke="#231f20" stroke-width="1.1"/>
<line x1="199.95" y1="371.00" x2="205.95" y2="371.00" stroke="#231f20" stroke-width="1.1"/>
<circle cx="202.95" cy="356.66" r="1.70" fill="none" stroke="#231f20" stroke-width="1.1"/>
<circle cx="199.75" cy="379.60" r="1.70" fill="none" stroke="#231f20" stroke-width="1.1"/>
<circle cx="206.15" cy="379.60" r="1.70" fill="none" stroke="#231f20" stroke-width="1.1"/>
<circle cx="202.95" cy="382.46" r="1.70" fill="none" stroke="#231f20" stroke-width="1.1"/>
<circle cx="199.95" cy="393.93" r="1.70" fill="none" stroke="#231f20" stroke-width="1.1"/>
<circle cx="202.95" cy="393.93" r="1.70" fill="none" stroke="#231f20" stroke-width="1.1"/>
<circle cx="205.95" cy="393.93" r="1.70" fill="none" stroke="#231f20" stroke-width="1.1"/>
<circle cx="202.95" cy="396.80" r="1.70" fill="none" stroke="#231f20" stroke-width="1.1"/>
<line x1="222.10" y1="392.21" x2="222.10" y2="377.30" stroke="#231f20" stroke-width="1.1"/>
<line x1="219.10" y1="392.21" x2="225.10" y2="392.21" stroke="#231f20" stroke-width="1.1"/>
<line x1="219.10" y1="377.30" x2="225.10" y2="377.30" stroke="#231f20" stroke-width="1.1"/>
<circle cx="222.10" cy="376.16" r="1.70" fill="none" stroke="#231f20" stroke-width="1.1"/>
<circle cx="219.10" cy="379.60" r="1.70" fill="none" stroke="#231f20" stroke-width="1.1"/>
<circle cx="225.10" cy="379.60" r="1.70" fill="none" stroke="#231f20" stroke-width="1.1"/>
<circle cx="222.10" cy="383.61" r="1.70" fill="none" stroke="#231f20" stroke-width="1.1"/>
<circle cx="222.10" cy="387.05" r="1.70" fill="none" stroke="#231f20" stroke-width="1.1"/>
<circle cx="219.10" cy="391.06" r="1.70" fill="none" stroke="#231f20" stroke-width="1.1"/>
<circle cx="225.10" cy="391.06" r="1.70" fill="none" stroke="#231f20" stroke-width="1.1"/>
<line x1="241.45" y1="385.33" x2="241.45" y2="377.30" stroke="#231f20" stroke-width="1.1"/>
<line x1="238.45" y1="385.33" x2="244.45" y2="385.33" stroke="#231f20" stroke-width="1.1"/>
<line x1="238.45" y1="377.30" x2="244.45" y2="377.30" stroke="#231f20" stroke-width="1.1"/>
<circle cx="241.45" cy="376.16" r="1.70" fill="none" stroke="#231f20" stroke-width="1.1"/>
<circle cx="238.45" cy="379.60" r="1.70" fill="none" stroke="#231f20" stroke-width="1.1"/>
<circle cx="244.45" cy="379.60" r="1.70" fill="none" stroke="#231f20" stroke-width="1.1"/>
<circle cx="241.45" cy="382.46" r="1.70" fill="none" stroke="#231f20" stroke-width="1.1"/>
<circle cx="238.45" cy="385.33" r="1.70" fill="none" stroke="#231f20" stroke-width="1.1"/>
<circle cx="244.45" cy="385.33" r="1.70" fill="none" stroke="#231f20" stroke-width="1.1"/>
<line x1="193.70" y1="327.49" x2="193.70" y2="414.60" stroke="#231f20" stroke-width="1.3"/>
<line x1="193.10" y1="414.00" x2="251.10" y2="414.00" stroke="#231f20" stroke-width="1.3"/>
<line x1="189.70" y1="414.00" x2="193.70" y2="414.00" stroke="#231f20" stroke-width="1"/>
<text x="187.70" y="417.10" font-size="9.5" text-anchor="end" fill="#231f20" stroke="#231f20" stroke-width="0.13" transform="translate(187.70 417.10) scale(1 1.17) translate(-187.70 -417.10)">0</text>
<line x1="189.70" y1="385.33" x2="193.70" y2="385.33" stroke="#231f20" stroke-width="1"/>
<text x="187.70" y="388.43" font-size="9.5" text-anchor="end" fill="#231f20" stroke="#231f20" stroke-width="0.13" transform="translate(187.70 388.43) scale(1 1.17) translate(-187.70 -388.43)">0.5E-4</text>
<line x1="189.70" y1="356.66" x2="193.70" y2="356.66" stroke="#231f20" stroke-width="1"/>
<text x="187.70" y="359.76" font-size="9.5" text-anchor="end" fill="#231f20" stroke="#231f20" stroke-width="0.13" transform="translate(187.70 359.76) scale(1 1.17) translate(-187.70 -359.76)">1E-4</text>
<line x1="189.70" y1="327.99" x2="193.70" y2="327.99" stroke="#231f20" stroke-width="1"/>
<text x="187.70" y="331.09" font-size="9.5" text-anchor="end" fill="#231f20" stroke="#231f20" stroke-width="0.13" transform="translate(187.70 331.09) scale(1 1.17) translate(-187.70 -331.09)">1.5E-4</text>
<line x1="202.95" y1="414.00" x2="202.95" y2="417.80" stroke="#231f20" stroke-width="1"/>
<line x1="222.10" y1="414.00" x2="222.10" y2="417.80" stroke="#231f20" stroke-width="1"/>
<line x1="241.45" y1="414.00" x2="241.45" y2="417.80" stroke="#231f20" stroke-width="1"/>
<text x="349.90" y="307.50" font-size="9.5" text-anchor="middle" fill="#231f20" stroke="#231f20" stroke-width="0.13" transform="translate(349.90 307.50) scale(1 1.17) translate(-349.90 -307.50)">BCL11A mature</text>
<text x="350.00" y="318.00" font-size="9.5" text-anchor="middle" fill="#231f20" stroke="#231f20" stroke-width="0.13" transform="translate(350.00 318.00) scale(1 1.17) translate(-350.00 -318.00)">RNA</text>
<rect x="324.00" y="370.31" width="12.70" height="43.89" fill="#2ba3dc"/>
<rect x="343.30" y="373.16" width="12.40" height="41.04" fill="#a4b78c"/>
<rect x="362.60" y="393.11" width="12.50" height="21.09" fill="#f9b715"/>
<line x1="330.35" y1="385.70" x2="330.35" y2="354.35" stroke="#231f20" stroke-width="1.1"/>
<line x1="327.35" y1="385.70" x2="333.35" y2="385.70" stroke="#231f20" stroke-width="1.1"/>
<line x1="327.35" y1="354.35" x2="333.35" y2="354.35" stroke="#231f20" stroke-width="1.1"/>
<circle cx="330.35" cy="340.10" r="1.70" fill="none" stroke="#231f20" stroke-width="1.1"/>
<circle cx="330.35" cy="357.20" r="1.70" fill="none" stroke="#231f20" stroke-width="1.1"/>
<circle cx="327.35" cy="368.60" r="1.70" fill="none" stroke="#231f20" stroke-width="1.1"/>
<circle cx="333.35" cy="368.60" r="1.70" fill="none" stroke="#231f20" stroke-width="1.1"/>
<circle cx="327.35" cy="380.00" r="1.70" fill="none" stroke="#231f20" stroke-width="1.1"/>
<circle cx="333.35" cy="380.00" r="1.70" fill="none" stroke="#231f20" stroke-width="1.1"/>
<circle cx="330.35" cy="382.85" r="1.70" fill="none" stroke="#231f20" stroke-width="1.1"/>
<circle cx="330.35" cy="388.55" r="1.70" fill="none" stroke="#231f20" stroke-width="1.1"/>
<line x1="349.50" y1="380.00" x2="349.50" y2="365.75" stroke="#231f20" stroke-width="1.1"/>
<line x1="346.50" y1="380.00" x2="352.50" y2="380.00" stroke="#231f20" stroke-width="1.1"/>
<line x1="346.50" y1="365.75" x2="352.50" y2="365.75" stroke="#231f20" stroke-width="1.1"/>
<circle cx="349.50" cy="365.75" r="1.70" fill="none" stroke="#231f20" stroke-width="1.1"/>
<circle cx="347.50" cy="369.74" r="1.70" fill="none" stroke="#231f20" stroke-width="1.1"/>
<circle cx="351.50" cy="369.74" r="1.70" fill="none" stroke="#231f20" stroke-width="1.1"/>
<circle cx="346.00" cy="375.44" r="1.70" fill="none" stroke="#231f20" stroke-width="1.1"/>
<circle cx="353.00" cy="375.44" r="1.70" fill="none" stroke="#231f20" stroke-width="1.1"/>
<circle cx="349.50" cy="377.15" r="1.70" fill="none" stroke="#231f20" stroke-width="1.1"/>
<line x1="368.85" y1="397.10" x2="368.85" y2="388.55" stroke="#231f20" stroke-width="1.1"/>
<line x1="365.85" y1="397.10" x2="371.85" y2="397.10" stroke="#231f20" stroke-width="1.1"/>
<line x1="365.85" y1="388.55" x2="371.85" y2="388.55" stroke="#231f20" stroke-width="1.1"/>
<circle cx="368.85" cy="388.55" r="1.70" fill="none" stroke="#231f20" stroke-width="1.1"/>
<circle cx="365.85" cy="391.40" r="1.70" fill="none" stroke="#231f20" stroke-width="1.1"/>
<circle cx="371.85" cy="391.40" r="1.70" fill="none" stroke="#231f20" stroke-width="1.1"/>
<circle cx="366.85" cy="395.39" r="1.70" fill="none" stroke="#231f20" stroke-width="1.1"/>
<circle cx="370.85" cy="395.39" r="1.70" fill="none" stroke="#231f20" stroke-width="1.1"/>
<circle cx="368.85" cy="398.24" r="1.70" fill="none" stroke="#231f20" stroke-width="1.1"/>
<line x1="321.10" y1="328.20" x2="321.10" y2="414.80" stroke="#231f20" stroke-width="1.3"/>
<line x1="320.50" y1="414.20" x2="378.50" y2="414.20" stroke="#231f20" stroke-width="1.3"/>
<line x1="317.10" y1="414.20" x2="321.10" y2="414.20" stroke="#231f20" stroke-width="1"/>
<text x="315.10" y="417.30" font-size="9.5" text-anchor="end" fill="#231f20" stroke="#231f20" stroke-width="0.13" transform="translate(315.10 417.30) scale(1 1.17) translate(-315.10 -417.30)">0</text>
<line x1="317.10" y1="385.70" x2="321.10" y2="385.70" stroke="#231f20" stroke-width="1"/>
<text x="315.10" y="388.80" font-size="9.5" text-anchor="end" fill="#231f20" stroke="#231f20" stroke-width="0.13" transform="translate(315.10 388.80) scale(1 1.17) translate(-315.10 -388.80)">0.5E-2</text>
<line x1="317.10" y1="357.20" x2="321.10" y2="357.20" stroke="#231f20" stroke-width="1"/>
<text x="315.10" y="360.30" font-size="9.5" text-anchor="end" fill="#231f20" stroke="#231f20" stroke-width="0.13" transform="translate(315.10 360.30) scale(1 1.17) translate(-315.10 -360.30)">1E-2</text>
<line x1="317.10" y1="328.70" x2="321.10" y2="328.70" stroke="#231f20" stroke-width="1"/>
<text x="315.10" y="331.80" font-size="9.5" text-anchor="end" fill="#231f20" stroke="#231f20" stroke-width="0.13" transform="translate(315.10 331.80) scale(1 1.17) translate(-315.10 -331.80)">1.5E-2</text>
<line x1="330.35" y1="414.20" x2="330.35" y2="418.00" stroke="#231f20" stroke-width="1"/>
<line x1="349.50" y1="414.20" x2="349.50" y2="418.00" stroke="#231f20" stroke-width="1"/>
<line x1="368.85" y1="414.20" x2="368.85" y2="418.00" stroke="#231f20" stroke-width="1"/>
<line x1="350.50" y1="350.80" x2="370.00" y2="350.80" stroke="#231f20" stroke-width="0.9"/>
<text x="360.25" y="351.60" font-size="10.5" text-anchor="middle" fill="#231f20" stroke="#231f20" stroke-width="0.13">**</text>
<text x="474.50" y="307.50" font-size="9.5" text-anchor="middle" fill="#231f20" stroke="#231f20" stroke-width="0.13" transform="translate(474.50 307.50) scale(1 1.17) translate(-474.50 -307.50)">BCL11A 1°</text>
<text x="474.50" y="318.00" font-size="9.5" text-anchor="middle" fill="#231f20" stroke="#231f20" stroke-width="0.13" transform="translate(474.50 318.00) scale(1 1.17) translate(-474.50 -318.00)">transcript</text>
<rect x="448.60" y="365.35" width="12.70" height="48.85" fill="#2ba3dc"/>
<rect x="467.90" y="369.64" width="12.40" height="44.56" fill="#a4b78c"/>
<rect x="487.20" y="388.49" width="12.50" height="25.71" fill="#f9b715"/>
<line x1="454.95" y1="376.49" x2="454.95" y2="354.21" stroke="#231f20" stroke-width="1.1"/>
<line x1="451.95" y1="376.49" x2="457.95" y2="376.49" stroke="#231f20" stroke-width="1.1"/>
<line x1="451.95" y1="354.21" x2="457.95" y2="354.21" stroke="#231f20" stroke-width="1.1"/>
<circle cx="454.95" cy="349.92" r="1.70" fill="none" stroke="#231f20" stroke-width="1.1"/>
<circle cx="451.45" cy="355.07" r="1.70" fill="none" stroke="#231f20" stroke-width="1.1"/>
<circle cx="458.45" cy="355.92" r="1.70" fill="none" stroke="#231f20" stroke-width="1.1"/>
<circle cx="454.95" cy="364.49" r="1.70" fill="none" stroke="#231f20" stroke-width="1.1"/>
<circle cx="451.45" cy="373.06" r="1.70" fill="none" stroke="#231f20" stroke-width="1.1"/>
<circle cx="458.45" cy="373.06" r="1.70" fill="none" stroke="#231f20" stroke-width="1.1"/>
<circle cx="454.95" cy="378.21" r="1.70" fill="none" stroke="#231f20" stroke-width="1.1"/>
<line x1="474.10" y1="383.35" x2="474.10" y2="355.07" stroke="#231f20" stroke-width="1.1"/>
<line x1="471.10" y1="383.35" x2="477.10" y2="383.35" stroke="#231f20" stroke-width="1.1"/>
<line x1="471.10" y1="355.07" x2="477.10" y2="355.07" stroke="#231f20" stroke-width="1.1"/>
<circle cx="474.10" cy="349.07" r="1.70" fill="none" stroke="#231f20" stroke-width="1.1"/>
<circle cx="474.10" cy="357.64" r="1.70" fill="none" stroke="#231f20" stroke-width="1.1"/>
<circle cx="474.10" cy="364.49" r="1.70" fill="none" stroke="#231f20" stroke-width="1.1"/>
<circle cx="474.10" cy="371.35" r="1.70" fill="none" stroke="#231f20" stroke-width="1.1"/>
<circle cx="470.60" cy="384.20" r="1.70" fill="none" stroke="#231f20" stroke-width="1.1"/>
<circle cx="477.60" cy="384.20" r="1.70" fill="none" stroke="#231f20" stroke-width="1.1"/>
<circle cx="474.10" cy="385.06" r="1.70" fill="none" stroke="#231f20" stroke-width="1.1"/>
<line x1="493.45" y1="400.49" x2="493.45" y2="376.49" stroke="#231f20" stroke-width="1.1"/>
<line x1="490.45" y1="400.49" x2="496.45" y2="400.49" stroke="#231f20" stroke-width="1.1"/>
<line x1="490.45" y1="376.49" x2="496.45" y2="376.49" stroke="#231f20" stroke-width="1.1"/>
<circle cx="489.95" cy="376.49" r="1.70" fill="none" stroke="#231f20" stroke-width="1.1"/>
<circle cx="493.45" cy="376.49" r="1.70" fill="none" stroke="#231f20" stroke-width="1.1"/>
<circle cx="496.95" cy="376.49" r="1.70" fill="none" stroke="#231f20" stroke-width="1.1"/>
<circle cx="489.95" cy="399.63" r="1.70" fill="none" stroke="#231f20" stroke-width="1.1"/>
<circle cx="496.95" cy="399.63" r="1.70" fill="none" stroke="#231f20" stroke-width="1.1"/>
<circle cx="493.45" cy="400.49" r="1.70" fill="none" stroke="#231f20" stroke-width="1.1"/>
<circle cx="496.95" cy="397.06" r="1.70" fill="none" stroke="#231f20" stroke-width="1.1"/>
<line x1="445.70" y1="328.00" x2="445.70" y2="414.80" stroke="#231f20" stroke-width="1.3"/>
<line x1="445.10" y1="414.20" x2="503.10" y2="414.20" stroke="#231f20" stroke-width="1.3"/>
<line x1="441.70" y1="414.20" x2="445.70" y2="414.20" stroke="#231f20" stroke-width="1"/>
<text x="439.70" y="417.30" font-size="9.5" text-anchor="end" fill="#231f20" stroke="#231f20" stroke-width="0.13" transform="translate(439.70 417.30) scale(1 1.17) translate(-439.70 -417.30)">0</text>
<line x1="441.70" y1="397.06" x2="445.70" y2="397.06" stroke="#231f20" stroke-width="1"/>
<text x="439.70" y="400.16" font-size="9.5" text-anchor="end" fill="#231f20" stroke="#231f20" stroke-width="0.13" transform="translate(439.70 400.16) scale(1 1.17) translate(-439.70 -400.16)">1E-4</text>
<line x1="441.70" y1="379.92" x2="445.70" y2="379.92" stroke="#231f20" stroke-width="1"/>
<text x="439.70" y="383.02" font-size="9.5" text-anchor="end" fill="#231f20" stroke="#231f20" stroke-width="0.13" transform="translate(439.70 383.02) scale(1 1.17) translate(-439.70 -383.02)">2E-4</text>
<line x1="441.70" y1="362.78" x2="445.70" y2="362.78" stroke="#231f20" stroke-width="1"/>
<text x="439.70" y="365.88" font-size="9.5" text-anchor="end" fill="#231f20" stroke="#231f20" stroke-width="0.13" transform="translate(439.70 365.88) scale(1 1.17) translate(-439.70 -365.88)">3E-4</text>
<line x1="441.70" y1="345.64" x2="445.70" y2="345.64" stroke="#231f20" stroke-width="1"/>
<text x="439.70" y="348.74" font-size="9.5" text-anchor="end" fill="#231f20" stroke="#231f20" stroke-width="0.13" transform="translate(439.70 348.74) scale(1 1.17) translate(-439.70 -348.74)">4E-4</text>
<line x1="441.70" y1="328.50" x2="445.70" y2="328.50" stroke="#231f20" stroke-width="1"/>
<text x="439.70" y="331.60" font-size="9.5" text-anchor="end" fill="#231f20" stroke="#231f20" stroke-width="0.13" transform="translate(439.70 331.60) scale(1 1.17) translate(-439.70 -331.60)">5E-4</text>
<line x1="454.95" y1="414.20" x2="454.95" y2="418.00" stroke="#231f20" stroke-width="1"/>
<line x1="474.10" y1="414.20" x2="474.10" y2="418.00" stroke="#231f20" stroke-width="1"/>
<line x1="493.45" y1="414.20" x2="493.45" y2="418.00" stroke="#231f20" stroke-width="1"/>
<line x1="474.50" y1="340.00" x2="494.50" y2="340.00" stroke="#231f20" stroke-width="0.9"/>
<text x="484.50" y="340.80" font-size="10.5" text-anchor="middle" fill="#231f20" stroke="#231f20" stroke-width="0.13">**</text>
<text x="8.30" y="448.70" font-size="13.6" text-anchor="start" fill="#231f20" font-weight="bold" stroke="#000" stroke-width="0.3">D</text>
<text x="98.50" y="464.70" font-size="9.5" text-anchor="middle" fill="#231f20" stroke="#231f20" stroke-width="0.13" transform="translate(98.50 464.70) scale(1 1.17) translate(-98.50 -464.70)">Parental</text>
<polygon points="71.40,562.30 71.40,561.50 76.20,553.40 79.50,541.30 83.60,537.30 85.60,530.60 87.60,496.90 89.30,478.70 91.20,490.20 93.40,514.40 95.30,531.90 97.00,548.00 99.70,550.50 103.10,550.20 107.10,552.40 111.10,554.80 116.50,558.80 120.60,561.50 120.60,562.30" fill="#a9d3f1" stroke="#5aaee0" stroke-width="0.8"/>
<rect x="52.00" y="470.10" width="92.00" height="92.20" fill="none" stroke="#231f20" stroke-width="1.5"/>
<line x1="49.50" y1="472.40" x2="52.00" y2="472.40" stroke="#231f20" stroke-width="0.9"/>
<line x1="49.50" y1="502.37" x2="52.00" y2="502.37" stroke="#231f20" stroke-width="0.9"/>
<line x1="49.50" y1="532.33" x2="52.00" y2="532.33" stroke="#231f20" stroke-width="0.9"/>
<line x1="49.50" y1="562.30" x2="52.00" y2="562.30" stroke="#231f20" stroke-width="0.9"/>
<line x1="50.70" y1="472.10" x2="52.00" y2="472.10" stroke="#231f20" stroke-width="0.5"/>
<line x1="50.70" y1="475.86" x2="52.00" y2="475.86" stroke="#231f20" stroke-width="0.5"/>
<line x1="50.70" y1="479.62" x2="52.00" y2="479.62" stroke="#231f20" stroke-width="0.5"/>
<line x1="50.70" y1="483.38" x2="52.00" y2="483.38" stroke="#231f20" stroke-width="0.5"/>
<line x1="50.70" y1="487.13" x2="52.00" y2="487.13" stroke="#231f20" stroke-width="0.5"/>
<line x1="50.70" y1="490.89" x2="52.00" y2="490.89" stroke="#231f20" stroke-width="0.5"/>
<line x1="50.70" y1="494.65" x2="52.00" y2="494.65" stroke="#231f20" stroke-width="0.5"/>
<line x1="50.70" y1="498.41" x2="52.00" y2="498.41" stroke="#231f20" stroke-width="0.5"/>
<line x1="50.70" y1="502.17" x2="52.00" y2="502.17" stroke="#231f20" stroke-width="0.5"/>
<line x1="50.70" y1="505.93" x2="52.00" y2="505.93" stroke="#231f20" stroke-width="0.5"/>
<line x1="50.70" y1="509.68" x2="52.00" y2="509.68" stroke="#231f20" stroke-width="0.5"/>
<line x1="50.70" y1="513.44" x2="52.00" y2="513.44" stroke="#231f20" stroke-width="0.5"/>
<line x1="50.70" y1="517.20" x2="52.00" y2="517.20" stroke="#231f20" stroke-width="0.5"/>
<line x1="50.70" y1="520.96" x2="52.00" y2="520.96" stroke="#231f20" stroke-width="0.5"/>
<line x1="50.70" y1="524.72" x2="52.00" y2="524.72" stroke="#231f20" stroke-width="0.5"/>
<line x1="50.70" y1="528.48" x2="52.00" y2="528.48" stroke="#231f20" stroke-width="0.5"/>
<line x1="50.70" y1="532.23" x2="52.00" y2="532.23" stroke="#231f20" stroke-width="0.5"/>
<line x1="50.70" y1="535.99" x2="52.00" y2="535.99" stroke="#231f20" stroke-width="0.5"/>
<line x1="50.70" y1="539.75" x2="52.00" y2="539.75" stroke="#231f20" stroke-width="0.5"/>
<line x1="50.70" y1="543.51" x2="52.00" y2="543.51" stroke="#231f20" stroke-width="0.5"/>
<line x1="50.70" y1="547.27" x2="52.00" y2="547.27" stroke="#231f20" stroke-width="0.5"/>
<line x1="50.70" y1="551.02" x2="52.00" y2="551.02" stroke="#231f20" stroke-width="0.5"/>
<line x1="50.70" y1="554.78" x2="52.00" y2="554.78" stroke="#231f20" stroke-width="0.5"/>
<line x1="50.70" y1="558.54" x2="52.00" y2="558.54" stroke="#231f20" stroke-width="0.5"/>
<line x1="65.30" y1="562.30" x2="65.30" y2="564.80" stroke="#231f20" stroke-width="0.9"/>
<line x1="52.37" y1="562.30" x2="52.37" y2="563.60" stroke="#231f20" stroke-width="0.5"/>
<line x1="55.63" y1="562.30" x2="55.63" y2="563.60" stroke="#231f20" stroke-width="0.5"/>
<line x1="57.94" y1="562.30" x2="57.94" y2="563.60" stroke="#231f20" stroke-width="0.5"/>
<line x1="59.73" y1="562.30" x2="59.73" y2="563.60" stroke="#231f20" stroke-width="0.5"/>
<line x1="61.20" y1="562.30" x2="61.20" y2="563.60" stroke="#231f20" stroke-width="0.5"/>
<line x1="62.43" y1="562.30" x2="62.43" y2="563.60" stroke="#231f20" stroke-width="0.5"/>
<line x1="63.51" y1="562.30" x2="63.51" y2="563.60" stroke="#231f20" stroke-width="0.5"/>
<line x1="64.45" y1="562.30" x2="64.45" y2="563.60" stroke="#231f20" stroke-width="0.5"/>
<line x1="83.80" y1="562.30" x2="83.80" y2="564.80" stroke="#231f20" stroke-width="0.9"/>
<line x1="70.87" y1="562.30" x2="70.87" y2="563.60" stroke="#231f20" stroke-width="0.5"/>
<line x1="74.13" y1="562.30" x2="74.13" y2="563.60" stroke="#231f20" stroke-width="0.5"/>
<line x1="76.44" y1="562.30" x2="76.44" y2="563.60" stroke="#231f20" stroke-width="0.5"/>
<line x1="78.23" y1="562.30" x2="78.23" y2="563.60" stroke="#231f20" stroke-width="0.5"/>
<line x1="79.70" y1="562.30" x2="79.70" y2="563.60" stroke="#231f20" stroke-width="0.5"/>
<line x1="80.93" y1="562.30" x2="80.93" y2="563.60" stroke="#231f20" stroke-width="0.5"/>
<line x1="82.01" y1="562.30" x2="82.01" y2="563.60" stroke="#231f20" stroke-width="0.5"/>
<line x1="82.95" y1="562.30" x2="82.95" y2="563.60" stroke="#231f20" stroke-width="0.5"/>
<line x1="102.30" y1="562.30" x2="102.30" y2="564.80" stroke="#231f20" stroke-width="0.9"/>
<line x1="89.37" y1="562.30" x2="89.37" y2="563.60" stroke="#231f20" stroke-width="0.5"/>
<line x1="92.63" y1="562.30" x2="92.63" y2="563.60" stroke="#231f20" stroke-width="0.5"/>
<line x1="94.94" y1="562.30" x2="94.94" y2="563.60" stroke="#231f20" stroke-width="0.5"/>
<line x1="96.73" y1="562.30" x2="96.73" y2="563.60" stroke="#231f20" stroke-width="0.5"/>
<line x1="98.20" y1="562.30" x2="98.20" y2="563.60" stroke="#231f20" stroke-width="0.5"/>
<line x1="99.43" y1="562.30" x2="99.43" y2="563.60" stroke="#231f20" stroke-width="0.5"/>
<line x1="100.51" y1="562.30" x2="100.51" y2="563.60" stroke="#231f20" stroke-width="0.5"/>
<line x1="101.45" y1="562.30" x2="101.45" y2="563.60" stroke="#231f20" stroke-width="0.5"/>
<line x1="120.80" y1="562.30" x2="120.80" y2="564.80" stroke="#231f20" stroke-width="0.9"/>
<line x1="107.87" y1="562.30" x2="107.87" y2="563.60" stroke="#231f20" stroke-width="0.5"/>
<line x1="111.13" y1="562.30" x2="111.13" y2="563.60" stroke="#231f20" stroke-width="0.5"/>
<line x1="113.44" y1="562.30" x2="113.44" y2="563.60" stroke="#231f20" stroke-width="0.5"/>
<line x1="115.23" y1="562.30" x2="115.23" y2="563.60" stroke="#231f20" stroke-width="0.5"/>
<line x1="116.70" y1="562.30" x2="116.70" y2="563.60" stroke="#231f20" stroke-width="0.5"/>
<line x1="117.93" y1="562.30" x2="117.93" y2="563.60" stroke="#231f20" stroke-width="0.5"/>
<line x1="119.01" y1="562.30" x2="119.01" y2="563.60" stroke="#231f20" stroke-width="0.5"/>
<line x1="119.95" y1="562.30" x2="119.95" y2="563.60" stroke="#231f20" stroke-width="0.5"/>
<line x1="139.30" y1="562.30" x2="139.30" y2="564.80" stroke="#231f20" stroke-width="0.9"/>
<line x1="126.37" y1="562.30" x2="126.37" y2="563.60" stroke="#231f20" stroke-width="0.5"/>
<line x1="129.63" y1="562.30" x2="129.63" y2="563.60" stroke="#231f20" stroke-width="0.5"/>
<line x1="131.94" y1="562.30" x2="131.94" y2="563.60" stroke="#231f20" stroke-width="0.5"/>
<line x1="133.73" y1="562.30" x2="133.73" y2="563.60" stroke="#231f20" stroke-width="0.5"/>
<line x1="135.20" y1="562.30" x2="135.20" y2="563.60" stroke="#231f20" stroke-width="0.5"/>
<line x1="136.43" y1="562.30" x2="136.43" y2="563.60" stroke="#231f20" stroke-width="0.5"/>
<line x1="137.51" y1="562.30" x2="137.51" y2="563.60" stroke="#231f20" stroke-width="0.5"/>
<line x1="138.45" y1="562.30" x2="138.45" y2="563.60" stroke="#231f20" stroke-width="0.5"/>
<text x="66.30" y="579.30" font-size="9.8" text-anchor="end" fill="#231f20" stroke="#231f20" stroke-width="0.13" transform="translate(66.30 579.30) scale(1 1.17) translate(-66.30 -579.30)">10</text>
<text x="66.60" y="574.80" font-size="6.8" text-anchor="start" fill="#231f20" stroke="#231f20" stroke-width="0.13" transform="translate(66.60 574.80) scale(1 1.17) translate(-66.60 -574.80)">1</text>
<text x="84.80" y="579.30" font-size="9.8" text-anchor="end" fill="#231f20" stroke="#231f20" stroke-width="0.13" transform="translate(84.80 579.30) scale(1 1.17) translate(-84.80 -579.30)">10</text>
<text x="85.10" y="574.80" font-size="6.8" text-anchor="start" fill="#231f20" stroke="#231f20" stroke-width="0.13" transform="translate(85.10 574.80) scale(1 1.17) translate(-85.10 -574.80)">2</text>
<text x="103.30" y="579.30" font-size="9.8" text-anchor="end" fill="#231f20" stroke="#231f20" stroke-width="0.13" transform="translate(103.30 579.30) scale(1 1.17) translate(-103.30 -579.30)">10</text>
<text x="103.60" y="574.80" font-size="6.8" text-anchor="start" fill="#231f20" stroke="#231f20" stroke-width="0.13" transform="translate(103.60 574.80) scale(1 1.17) translate(-103.60 -574.80)">3</text>
<text x="121.80" y="579.30" font-size="9.8" text-anchor="end" fill="#231f20" stroke="#231f20" stroke-width="0.13" transform="translate(121.80 579.30) scale(1 1.17) translate(-121.80 -579.30)">10</text>
<text x="122.10" y="574.80" font-size="6.8" text-anchor="start" fill="#231f20" stroke="#231f20" stroke-width="0.13" transform="translate(122.10 574.80) scale(1 1.17) translate(-122.10 -574.80)">4</text>
<text x="140.30" y="579.30" font-size="9.8" text-anchor="end" fill="#231f20" stroke="#231f20" stroke-width="0.13" transform="translate(140.30 579.30) scale(1 1.17) translate(-140.30 -579.30)">10</text>
<text x="140.60" y="574.80" font-size="6.8" text-anchor="start" fill="#231f20" stroke="#231f20" stroke-width="0.13" transform="translate(140.60 574.80) scale(1 1.17) translate(-140.60 -574.80)">5</text>
<line x1="100.50" y1="524.60" x2="141.50" y2="524.60" stroke="#231f20" stroke-width="0.9"/>
<line x1="100.50" y1="522.40" x2="100.50" y2="526.80" stroke="#231f20" stroke-width="0.9"/>
<line x1="141.50" y1="522.40" x2="141.50" y2="526.80" stroke="#231f20" stroke-width="0.9"/>
<text x="122.00" y="518.60" font-size="9.5" text-anchor="middle" fill="#231f20" stroke="#231f20" stroke-width="0.13" transform="translate(122.00 518.60) scale(1 1.17) translate(-122.00 -518.60)">15.6%</text>
<text x="45.00" y="565.10" font-size="9.5" text-anchor="end" fill="#231f20" stroke="#231f20" stroke-width="0.13" transform="translate(45.00 565.10) scale(1 1.17) translate(-45.00 -565.10)">0</text>
<text x="213.40" y="464.70" font-size="9.5" text-anchor="middle" fill="#231f20" stroke="#231f20" stroke-width="0.13" transform="translate(213.40 464.70) scale(1 1.17) translate(-213.40 -464.70)">Scramble</text>
<polygon points="186.40,562.30 186.40,562.00 191.20,550.80 193.80,542.70 195.90,538.40 197.60,540.70 199.90,529.20 201.90,503.60 204.60,476.00 206.20,501.00 207.30,505.70 209.30,521.10 211.30,545.40 214.00,548.00 219.40,550.00 226.10,554.10 231.50,558.80 238.30,562.00 238.30,562.30" fill="#d7dfc3" stroke="#b5c29c" stroke-width="0.8"/>
<rect x="166.70" y="470.10" width="92.40" height="92.20" fill="none" stroke="#231f20" stroke-width="1.5"/>
<line x1="164.20" y1="472.40" x2="166.70" y2="472.40" stroke="#231f20" stroke-width="0.9"/>
<line x1="164.20" y1="502.37" x2="166.70" y2="502.37" stroke="#231f20" stroke-width="0.9"/>
<line x1="164.20" y1="532.33" x2="166.70" y2="532.33" stroke="#231f20" stroke-width="0.9"/>
<line x1="164.20" y1="562.30" x2="166.70" y2="562.30" stroke="#231f20" stroke-width="0.9"/>
<line x1="165.40" y1="472.10" x2="166.70" y2="472.10" stroke="#231f20" stroke-width="0.5"/>
<line x1="165.40" y1="475.86" x2="166.70" y2="475.86" stroke="#231f20" stroke-width="0.5"/>
<line x1="165.40" y1="479.62" x2="166.70" y2="479.62" stroke="#231f20" stroke-width="0.5"/>
<line x1="165.40" y1="483.38" x2="166.70" y2="483.38" stroke="#231f20" stroke-width="0.5"/>
<line x1="165.40" y1="487.13" x2="166.70" y2="487.13" stroke="#231f20" stroke-width="0.5"/>
<line x1="165.40" y1="490.89" x2="166.70" y2="490.89" stroke="#231f20" stroke-width="0.5"/>
<line x1="165.40" y1="494.65" x2="166.70" y2="494.65" stroke="#231f20" stroke-width="0.5"/>
<line x1="165.40" y1="498.41" x2="166.70" y2="498.41" stroke="#231f20" stroke-width="0.5"/>
<line x1="165.40" y1="502.17" x2="166.70" y2="502.17" stroke="#231f20" stroke-width="0.5"/>
<line x1="165.40" y1="505.93" x2="166.70" y2="505.93" stroke="#231f20" stroke-width="0.5"/>
<line x1="165.40" y1="509.68" x2="166.70" y2="509.68" stroke="#231f20" stroke-width="0.5"/>
<line x1="165.40" y1="513.44" x2="166.70" y2="513.44" stroke="#231f20" stroke-width="0.5"/>
<line x1="165.40" y1="517.20" x2="166.70" y2="517.20" stroke="#231f20" stroke-width="0.5"/>
<line x1="165.40" y1="520.96" x2="166.70" y2="520.96" stroke="#231f20" stroke-width="0.5"/>
<line x1="165.40" y1="524.72" x2="166.70" y2="524.72" stroke="#231f20" stroke-width="0.5"/>
<line x1="165.40" y1="528.48" x2="166.70" y2="528.48" stroke="#231f20" stroke-width="0.5"/>
<line x1="165.40" y1="532.23" x2="166.70" y2="532.23" stroke="#231f20" stroke-width="0.5"/>
<line x1="165.40" y1="535.99" x2="166.70" y2="535.99" stroke="#231f20" stroke-width="0.5"/>
<line x1="165.40" y1="539.75" x2="166.70" y2="539.75" stroke="#231f20" stroke-width="0.5"/>
<line x1="165.40" y1="543.51" x2="166.70" y2="543.51" stroke="#231f20" stroke-width="0.5"/>
<line x1="165.40" y1="547.27" x2="166.70" y2="547.27" stroke="#231f20" stroke-width="0.5"/>
<line x1="165.40" y1="551.02" x2="166.70" y2="551.02" stroke="#231f20" stroke-width="0.5"/>
<line x1="165.40" y1="554.78" x2="166.70" y2="554.78" stroke="#231f20" stroke-width="0.5"/>
<line x1="165.40" y1="558.54" x2="166.70" y2="558.54" stroke="#231f20" stroke-width="0.5"/>
<line x1="180.00" y1="562.30" x2="180.00" y2="564.80" stroke="#231f20" stroke-width="0.9"/>
<line x1="167.07" y1="562.30" x2="167.07" y2="563.60" stroke="#231f20" stroke-width="0.5"/>
<line x1="170.33" y1="562.30" x2="170.33" y2="563.60" stroke="#231f20" stroke-width="0.5"/>
<line x1="172.64" y1="562.30" x2="172.64" y2="563.60" stroke="#231f20" stroke-width="0.5"/>
<line x1="174.43" y1="562.30" x2="174.43" y2="563.60" stroke="#231f20" stroke-width="0.5"/>
<line x1="175.90" y1="562.30" x2="175.90" y2="563.60" stroke="#231f20" stroke-width="0.5"/>
<line x1="177.13" y1="562.30" x2="177.13" y2="563.60" stroke="#231f20" stroke-width="0.5"/>
<line x1="178.21" y1="562.30" x2="178.21" y2="563.60" stroke="#231f20" stroke-width="0.5"/>
<line x1="179.15" y1="562.30" x2="179.15" y2="563.60" stroke="#231f20" stroke-width="0.5"/>
<line x1="198.50" y1="562.30" x2="198.50" y2="564.80" stroke="#231f20" stroke-width="0.9"/>
<line x1="185.57" y1="562.30" x2="185.57" y2="563.60" stroke="#231f20" stroke-width="0.5"/>
<line x1="188.83" y1="562.30" x2="188.83" y2="563.60" stroke="#231f20" stroke-width="0.5"/>
<line x1="191.14" y1="562.30" x2="191.14" y2="563.60" stroke="#231f20" stroke-width="0.5"/>
<line x1="192.93" y1="562.30" x2="192.93" y2="563.60" stroke="#231f20" stroke-width="0.5"/>
<line x1="194.40" y1="562.30" x2="194.40" y2="563.60" stroke="#231f20" stroke-width="0.5"/>
<line x1="195.63" y1="562.30" x2="195.63" y2="563.60" stroke="#231f20" stroke-width="0.5"/>
<line x1="196.71" y1="562.30" x2="196.71" y2="563.60" stroke="#231f20" stroke-width="0.5"/>
<line x1="197.65" y1="562.30" x2="197.65" y2="563.60" stroke="#231f20" stroke-width="0.5"/>
<line x1="217.00" y1="562.30" x2="217.00" y2="564.80" stroke="#231f20" stroke-width="0.9"/>
<line x1="204.07" y1="562.30" x2="204.07" y2="563.60" stroke="#231f20" stroke-width="0.5"/>
<line x1="207.33" y1="562.30" x2="207.33" y2="563.60" stroke="#231f20" stroke-width="0.5"/>
<line x1="209.64" y1="562.30" x2="209.64" y2="563.60" stroke="#231f20" stroke-width="0.5"/>
<line x1="211.43" y1="562.30" x2="211.43" y2="563.60" stroke="#231f20" stroke-width="0.5"/>
<line x1="212.90" y1="562.30" x2="212.90" y2="563.60" stroke="#231f20" stroke-width="0.5"/>
<line x1="214.13" y1="562.30" x2="214.13" y2="563.60" stroke="#231f20" stroke-width="0.5"/>
<line x1="215.21" y1="562.30" x2="215.21" y2="563.60" stroke="#231f20" stroke-width="0.5"/>
<line x1="216.15" y1="562.30" x2="216.15" y2="563.60" stroke="#231f20" stroke-width="0.5"/>
<line x1="235.50" y1="562.30" x2="235.50" y2="564.80" stroke="#231f20" stroke-width="0.9"/>
<line x1="222.57" y1="562.30" x2="222.57" y2="563.60" stroke="#231f20" stroke-width="0.5"/>
<line x1="225.83" y1="562.30" x2="225.83" y2="563.60" stroke="#231f20" stroke-width="0.5"/>
<line x1="228.14" y1="562.30" x2="228.14" y2="563.60" stroke="#231f20" stroke-width="0.5"/>
<line x1="229.93" y1="562.30" x2="229.93" y2="563.60" stroke="#231f20" stroke-width="0.5"/>
<line x1="231.40" y1="562.30" x2="231.40" y2="563.60" stroke="#231f20" stroke-width="0.5"/>
<line x1="232.63" y1="562.30" x2="232.63" y2="563.60" stroke="#231f20" stroke-width="0.5"/>
<line x1="233.71" y1="562.30" x2="233.71" y2="563.60" stroke="#231f20" stroke-width="0.5"/>
<line x1="234.65" y1="562.30" x2="234.65" y2="563.60" stroke="#231f20" stroke-width="0.5"/>
<line x1="254.00" y1="562.30" x2="254.00" y2="564.80" stroke="#231f20" stroke-width="0.9"/>
<line x1="241.07" y1="562.30" x2="241.07" y2="563.60" stroke="#231f20" stroke-width="0.5"/>
<line x1="244.33" y1="562.30" x2="244.33" y2="563.60" stroke="#231f20" stroke-width="0.5"/>
<line x1="246.64" y1="562.30" x2="246.64" y2="563.60" stroke="#231f20" stroke-width="0.5"/>
<line x1="248.43" y1="562.30" x2="248.43" y2="563.60" stroke="#231f20" stroke-width="0.5"/>
<line x1="249.90" y1="562.30" x2="249.90" y2="563.60" stroke="#231f20" stroke-width="0.5"/>
<line x1="251.13" y1="562.30" x2="251.13" y2="563.60" stroke="#231f20" stroke-width="0.5"/>
<line x1="252.21" y1="562.30" x2="252.21" y2="563.60" stroke="#231f20" stroke-width="0.5"/>
<line x1="253.15" y1="562.30" x2="253.15" y2="563.60" stroke="#231f20" stroke-width="0.5"/>
<text x="181.00" y="579.30" font-size="9.8" text-anchor="end" fill="#231f20" stroke="#231f20" stroke-width="0.13" transform="translate(181.00 579.30) scale(1 1.17) translate(-181.00 -579.30)">10</text>
<text x="181.30" y="574.80" font-size="6.8" text-anchor="start" fill="#231f20" stroke="#231f20" stroke-width="0.13" transform="translate(181.30 574.80) scale(1 1.17) translate(-181.30 -574.80)">1</text>
<text x="199.50" y="579.30" font-size="9.8" text-anchor="end" fill="#231f20" stroke="#231f20" stroke-width="0.13" transform="translate(199.50 579.30) scale(1 1.17) translate(-199.50 -579.30)">10</text>
<text x="199.80" y="574.80" font-size="6.8" text-anchor="start" fill="#231f20" stroke="#231f20" stroke-width="0.13" transform="translate(199.80 574.80) scale(1 1.17) translate(-199.80 -574.80)">2</text>
<text x="218.00" y="579.30" font-size="9.8" text-anchor="end" fill="#231f20" stroke="#231f20" stroke-width="0.13" transform="translate(218.00 579.30) scale(1 1.17) translate(-218.00 -579.30)">10</text>
<text x="218.30" y="574.80" font-size="6.8" text-anchor="start" fill="#231f20" stroke="#231f20" stroke-width="0.13" transform="translate(218.30 574.80) scale(1 1.17) translate(-218.30 -574.80)">3</text>
<text x="236.50" y="579.30" font-size="9.8" text-anchor="end" fill="#231f20" stroke="#231f20" stroke-width="0.13" transform="translate(236.50 579.30) scale(1 1.17) translate(-236.50 -579.30)">10</text>
<text x="236.80" y="574.80" font-size="6.8" text-anchor="start" fill="#231f20" stroke="#231f20" stroke-width="0.13" transform="translate(236.80 574.80) scale(1 1.17) translate(-236.80 -574.80)">4</text>
<text x="255.00" y="579.30" font-size="9.8" text-anchor="end" fill="#231f20" stroke="#231f20" stroke-width="0.13" transform="translate(255.00 579.30) scale(1 1.17) translate(-255.00 -579.30)">10</text>
<text x="255.30" y="574.80" font-size="6.8" text-anchor="start" fill="#231f20" stroke="#231f20" stroke-width="0.13" transform="translate(255.30 574.80) scale(1 1.17) translate(-255.30 -574.80)">5</text>
<line x1="215.40" y1="524.80" x2="257.20" y2="524.80" stroke="#231f20" stroke-width="0.9"/>
<line x1="215.40" y1="522.60" x2="215.40" y2="527.00" stroke="#231f20" stroke-width="0.9"/>
<line x1="257.20" y1="522.60" x2="257.20" y2="527.00" stroke="#231f20" stroke-width="0.9"/>
<text x="237.30" y="518.80" font-size="9.5" text-anchor="middle" fill="#231f20" stroke="#231f20" stroke-width="0.13" transform="translate(237.30 518.80) scale(1 1.17) translate(-237.30 -518.80)">17.1%</text>
<text x="159.70" y="565.10" font-size="9.5" text-anchor="end" fill="#231f20" stroke="#231f20" stroke-width="0.13" transform="translate(159.70 565.10) scale(1 1.17) translate(-159.70 -565.10)">0</text>
<text x="327.85" y="464.70" font-size="9.5" text-anchor="middle" fill="#231f20" stroke="#231f20" stroke-width="0.13" transform="translate(327.85 464.70) scale(1 1.17) translate(-327.85 -464.70)">let-7a/f TuD</text>
<polygon points="300.10,562.30 300.10,562.00 304.80,553.40 307.50,541.30 309.50,532.60 312.20,531.90 314.20,529.20 316.20,503.60 318.50,476.70 320.30,487.50 321.60,510.40 323.60,523.80 325.70,537.30 328.40,543.80 331.70,545.10 335.10,543.80 337.10,540.00 339.10,539.30 343.20,540.00 345.20,548.00 347.90,556.10 351.90,562.00 351.90,562.30" fill="#fbd98a" stroke="#f2c04a" stroke-width="0.8"/>
<rect x="281.50" y="470.10" width="91.70" height="92.20" fill="none" stroke="#231f20" stroke-width="1.5"/>
<line x1="279.00" y1="472.40" x2="281.50" y2="472.40" stroke="#231f20" stroke-width="0.9"/>
<line x1="279.00" y1="502.37" x2="281.50" y2="502.37" stroke="#231f20" stroke-width="0.9"/>
<line x1="279.00" y1="532.33" x2="281.50" y2="532.33" stroke="#231f20" stroke-width="0.9"/>
<line x1="279.00" y1="562.30" x2="281.50" y2="562.30" stroke="#231f20" stroke-width="0.9"/>
<line x1="280.20" y1="472.10" x2="281.50" y2="472.10" stroke="#231f20" stroke-width="0.5"/>
<line x1="280.20" y1="475.86" x2="281.50" y2="475.86" stroke="#231f20" stroke-width="0.5"/>
<line x1="280.20" y1="479.62" x2="281.50" y2="479.62" stroke="#231f20" stroke-width="0.5"/>
<line x1="280.20" y1="483.38" x2="281.50" y2="483.38" stroke="#231f20" stroke-width="0.5"/>
<line x1="280.20" y1="487.13" x2="281.50" y2="487.13" stroke="#231f20" stroke-width="0.5"/>
<line x1="280.20" y1="490.89" x2="281.50" y2="490.89" stroke="#231f20" stroke-width="0.5"/>
<line x1="280.20" y1="494.65" x2="281.50" y2="494.65" stroke="#231f20" stroke-width="0.5"/>
<line x1="280.20" y1="498.41" x2="281.50" y2="498.41" stroke="#231f20" stroke-width="0.5"/>
<line x1="280.20" y1="502.17" x2="281.50" y2="502.17" stroke="#231f20" stroke-width="0.5"/>
<line x1="280.20" y1="505.93" x2="281.50" y2="505.93" stroke="#231f20" stroke-width="0.5"/>
<line x1="280.20" y1="509.68" x2="281.50" y2="509.68" stroke="#231f20" stroke-width="0.5"/>
<line x1="280.20" y1="513.44" x2="281.50" y2="513.44" stroke="#231f20" stroke-width="0.5"/>
<line x1="280.20" y1="517.20" x2="281.50" y2="517.20" stroke="#231f20" stroke-width="0.5"/>
<line x1="280.20" y1="520.96" x2="281.50" y2="520.96" stroke="#231f20" stroke-width="0.5"/>
<line x1="280.20" y1="524.72" x2="281.50" y2="524.72" stroke="#231f20" stroke-width="0.5"/>
<line x1="280.20" y1="528.48" x2="281.50" y2="528.48" stroke="#231f20" stroke-width="0.5"/>
<line x1="280.20" y1="532.23" x2="281.50" y2="532.23" stroke="#231f20" stroke-width="0.5"/>
<line x1="280.20" y1="535.99" x2="281.50" y2="535.99" stroke="#231f20" stroke-width="0.5"/>
<line x1="280.20" y1="539.75" x2="281.50" y2="539.75" stroke="#231f20" stroke-width="0.5"/>
<line x1="280.20" y1="543.51" x2="281.50" y2="543.51" stroke="#231f20" stroke-width="0.5"/>
<line x1="280.20" y1="547.27" x2="281.50" y2="547.27" stroke="#231f20" stroke-width="0.5"/>
<line x1="280.20" y1="551.02" x2="281.50" y2="551.02" stroke="#231f20" stroke-width="0.5"/>
<line x1="280.20" y1="554.78" x2="281.50" y2="554.78" stroke="#231f20" stroke-width="0.5"/>
<line x1="280.20" y1="558.54" x2="281.50" y2="558.54" stroke="#231f20" stroke-width="0.5"/>
<line x1="294.80" y1="562.30" x2="294.80" y2="564.80" stroke="#231f20" stroke-width="0.9"/>
<line x1="281.87" y1="562.30" x2="281.87" y2="563.60" stroke="#231f20" stroke-width="0.5"/>
<line x1="285.13" y1="562.30" x2="285.13" y2="563.60" stroke="#231f20" stroke-width="0.5"/>
<line x1="287.44" y1="562.30" x2="287.44" y2="563.60" stroke="#231f20" stroke-width="0.5"/>
<line x1="289.23" y1="562.30" x2="289.23" y2="563.60" stroke="#231f20" stroke-width="0.5"/>
<line x1="290.70" y1="562.30" x2="290.70" y2="563.60" stroke="#231f20" stroke-width="0.5"/>
<line x1="291.93" y1="562.30" x2="291.93" y2="563.60" stroke="#231f20" stroke-width="0.5"/>
<line x1="293.01" y1="562.30" x2="293.01" y2="563.60" stroke="#231f20" stroke-width="0.5"/>
<line x1="293.95" y1="562.30" x2="293.95" y2="563.60" stroke="#231f20" stroke-width="0.5"/>
<line x1="313.30" y1="562.30" x2="313.30" y2="564.80" stroke="#231f20" stroke-width="0.9"/>
<line x1="300.37" y1="562.30" x2="300.37" y2="563.60" stroke="#231f20" stroke-width="0.5"/>
<line x1="303.63" y1="562.30" x2="303.63" y2="563.60" stroke="#231f20" stroke-width="0.5"/>
<line x1="305.94" y1="562.30" x2="305.94" y2="563.60" stroke="#231f20" stroke-width="0.5"/>
<line x1="307.73" y1="562.30" x2="307.73" y2="563.60" stroke="#231f20" stroke-width="0.5"/>
<line x1="309.20" y1="562.30" x2="309.20" y2="563.60" stroke="#231f20" stroke-width="0.5"/>
<line x1="310.43" y1="562.30" x2="310.43" y2="563.60" stroke="#231f20" stroke-width="0.5"/>
<line x1="311.51" y1="562.30" x2="311.51" y2="563.60" stroke="#231f20" stroke-width="0.5"/>
<line x1="312.45" y1="562.30" x2="312.45" y2="563.60" stroke="#231f20" stroke-width="0.5"/>
<line x1="331.80" y1="562.30" x2="331.80" y2="564.80" stroke="#231f20" stroke-width="0.9"/>
<line x1="318.87" y1="562.30" x2="318.87" y2="563.60" stroke="#231f20" stroke-width="0.5"/>
<line x1="322.13" y1="562.30" x2="322.13" y2="563.60" stroke="#231f20" stroke-width="0.5"/>
<line x1="324.44" y1="562.30" x2="324.44" y2="563.60" stroke="#231f20" stroke-width="0.5"/>
<line x1="326.23" y1="562.30" x2="326.23" y2="563.60" stroke="#231f20" stroke-width="0.5"/>
<line x1="327.70" y1="562.30" x2="327.70" y2="563.60" stroke="#231f20" stroke-width="0.5"/>
<line x1="328.93" y1="562.30" x2="328.93" y2="563.60" stroke="#231f20" stroke-width="0.5"/>
<line x1="330.01" y1="562.30" x2="330.01" y2="563.60" stroke="#231f20" stroke-width="0.5"/>
<line x1="330.95" y1="562.30" x2="330.95" y2="563.60" stroke="#231f20" stroke-width="0.5"/>
<line x1="350.30" y1="562.30" x2="350.30" y2="564.80" stroke="#231f20" stroke-width="0.9"/>
<line x1="337.37" y1="562.30" x2="337.37" y2="563.60" stroke="#231f20" stroke-width="0.5"/>
<line x1="340.63" y1="562.30" x2="340.63" y2="563.60" stroke="#231f20" stroke-width="0.5"/>
<line x1="342.94" y1="562.30" x2="342.94" y2="563.60" stroke="#231f20" stroke-width="0.5"/>
<line x1="344.73" y1="562.30" x2="344.73" y2="563.60" stroke="#231f20" stroke-width="0.5"/>
<line x1="346.20" y1="562.30" x2="346.20" y2="563.60" stroke="#231f20" stroke-width="0.5"/>
<line x1="347.43" y1="562.30" x2="347.43" y2="563.60" stroke="#231f20" stroke-width="0.5"/>
<line x1="348.51" y1="562.30" x2="348.51" y2="563.60" stroke="#231f20" stroke-width="0.5"/>
<line x1="349.45" y1="562.30" x2="349.45" y2="563.60" stroke="#231f20" stroke-width="0.5"/>
<line x1="368.80" y1="562.30" x2="368.80" y2="564.80" stroke="#231f20" stroke-width="0.9"/>
<line x1="355.87" y1="562.30" x2="355.87" y2="563.60" stroke="#231f20" stroke-width="0.5"/>
<line x1="359.13" y1="562.30" x2="359.13" y2="563.60" stroke="#231f20" stroke-width="0.5"/>
<line x1="361.44" y1="562.30" x2="361.44" y2="563.60" stroke="#231f20" stroke-width="0.5"/>
<line x1="363.23" y1="562.30" x2="363.23" y2="563.60" stroke="#231f20" stroke-width="0.5"/>
<line x1="364.70" y1="562.30" x2="364.70" y2="563.60" stroke="#231f20" stroke-width="0.5"/>
<line x1="365.93" y1="562.30" x2="365.93" y2="563.60" stroke="#231f20" stroke-width="0.5"/>
<line x1="367.01" y1="562.30" x2="367.01" y2="563.60" stroke="#231f20" stroke-width="0.5"/>
<line x1="367.95" y1="562.30" x2="367.95" y2="563.60" stroke="#231f20" stroke-width="0.5"/>
<text x="295.80" y="579.30" font-size="9.8" text-anchor="end" fill="#231f20" stroke="#231f20" stroke-width="0.13" transform="translate(295.80 579.30) scale(1 1.17) translate(-295.80 -579.30)">10</text>
<text x="296.10" y="574.80" font-size="6.8" text-anchor="start" fill="#231f20" stroke="#231f20" stroke-width="0.13" transform="translate(296.10 574.80) scale(1 1.17) translate(-296.10 -574.80)">1</text>
<text x="314.30" y="579.30" font-size="9.8" text-anchor="end" fill="#231f20" stroke="#231f20" stroke-width="0.13" transform="translate(314.30 579.30) scale(1 1.17) translate(-314.30 -579.30)">10</text>
<text x="314.60" y="574.80" font-size="6.8" text-anchor="start" fill="#231f20" stroke="#231f20" stroke-width="0.13" transform="translate(314.60 574.80) scale(1 1.17) translate(-314.60 -574.80)">2</text>
<text x="332.80" y="579.30" font-size="9.8" text-anchor="end" fill="#231f20" stroke="#231f20" stroke-width="0.13" transform="translate(332.80 579.30) scale(1 1.17) translate(-332.80 -579.30)">10</text>
<text x="333.10" y="574.80" font-size="6.8" text-anchor="start" fill="#231f20" stroke="#231f20" stroke-width="0.13" transform="translate(333.10 574.80) scale(1 1.17) translate(-333.10 -574.80)">3</text>
<text x="351.30" y="579.30" font-size="9.8" text-anchor="end" fill="#231f20" stroke="#231f20" stroke-width="0.13" transform="translate(351.30 579.30) scale(1 1.17) translate(-351.30 -579.30)">10</text>
<text x="351.60" y="574.80" font-size="6.8" text-anchor="start" fill="#231f20" stroke="#231f20" stroke-width="0.13" transform="translate(351.60 574.80) scale(1 1.17) translate(-351.60 -574.80)">4</text>
<text x="369.80" y="579.30" font-size="9.8" text-anchor="end" fill="#231f20" stroke="#231f20" stroke-width="0.13" transform="translate(369.80 579.30) scale(1 1.17) translate(-369.80 -579.30)">10</text>
<text x="370.10" y="574.80" font-size="6.8" text-anchor="start" fill="#231f20" stroke="#231f20" stroke-width="0.13" transform="translate(370.10 574.80) scale(1 1.17) translate(-370.10 -574.80)">5</text>
<line x1="330.00" y1="524.30" x2="371.00" y2="524.30" stroke="#231f20" stroke-width="0.9"/>
<line x1="330.00" y1="522.10" x2="330.00" y2="526.50" stroke="#231f20" stroke-width="0.9"/>
<line x1="371.00" y1="522.10" x2="371.00" y2="526.50" stroke="#231f20" stroke-width="0.9"/>
<text x="351.50" y="518.30" font-size="9.5" text-anchor="middle" fill="#231f20" stroke="#231f20" stroke-width="0.13" transform="translate(351.50 518.30) scale(1 1.17) translate(-351.50 -518.30)">27.6%</text>
<text x="274.50" y="565.10" font-size="9.5" text-anchor="end" fill="#231f20" stroke="#231f20" stroke-width="0.13" transform="translate(274.50 565.10) scale(1 1.17) translate(-274.50 -565.10)">0</text>
<text x="33.10" y="516.20" font-size="10.8" text-anchor="middle" fill="#231f20" stroke="#231f20" stroke-width="0.13" transform="translate(33.10 516.20) rotate(-90) translate(-33.10 -516.20)" textLength="24.00" lengthAdjust="spacingAndGlyphs">Count</text>
<text x="198.50" y="595.60" font-size="10.8" text-anchor="middle" fill="#231f20" stroke="#231f20" stroke-width="0.13" textLength="16.00" lengthAdjust="spacingAndGlyphs">HbF</text>
<text x="412.00" y="448.70" font-size="13.6" text-anchor="start" fill="#231f20" font-weight="bold" stroke="#000" stroke-width="0.3">E</text>
<text x="478.30" y="462.50" font-size="9.5" text-anchor="middle" fill="#231f20" stroke="#231f20" stroke-width="0.13" transform="translate(478.30 462.50) scale(1 1.17) translate(-478.30 -462.50)">F-cells</text>
<text x="421.50" y="510.40" font-size="10.8" text-anchor="middle" fill="#231f20" stroke="#231f20" stroke-width="0.13" transform="translate(421.50 510.40) rotate(-90) translate(-421.50 -510.40)" textLength="33.00" lengthAdjust="spacingAndGlyphs">F-cells %</text>
<rect x="448.45" y="523.92" width="12.70" height="31.68" fill="#2ba3dc"/>
<rect x="467.75" y="518.71" width="12.40" height="36.89" fill="#a4b78c"/>
<rect x="487.05" y="494.84" width="12.50" height="60.76" fill="#f9b715"/>
<line x1="454.80" y1="524.79" x2="454.80" y2="522.62" stroke="#231f20" stroke-width="1.1"/>
<line x1="451.80" y1="524.79" x2="457.80" y2="524.79" stroke="#231f20" stroke-width="1.1"/>
<line x1="451.80" y1="522.62" x2="457.80" y2="522.62" stroke="#231f20" stroke-width="1.1"/>
<circle cx="451.30" cy="523.05" r="1.70" fill="none" stroke="#231f20" stroke-width="1.1"/>
<circle cx="453.80" cy="521.97" r="1.70" fill="none" stroke="#231f20" stroke-width="1.1"/>
<circle cx="457.30" cy="522.40" r="1.70" fill="none" stroke="#231f20" stroke-width="1.1"/>
<circle cx="454.80" cy="523.92" r="1.70" fill="none" stroke="#231f20" stroke-width="1.1"/>
<circle cx="452.30" cy="524.57" r="1.70" fill="none" stroke="#231f20" stroke-width="1.1"/>
<circle cx="458.30" cy="525.22" r="1.70" fill="none" stroke="#231f20" stroke-width="1.1"/>
<line x1="473.95" y1="521.97" x2="473.95" y2="513.94" stroke="#231f20" stroke-width="1.1"/>
<line x1="470.95" y1="521.97" x2="476.95" y2="521.97" stroke="#231f20" stroke-width="1.1"/>
<line x1="470.95" y1="513.94" x2="476.95" y2="513.94" stroke="#231f20" stroke-width="1.1"/>
<circle cx="471.45" cy="513.94" r="1.70" fill="none" stroke="#231f20" stroke-width="1.1"/>
<circle cx="476.45" cy="513.94" r="1.70" fill="none" stroke="#231f20" stroke-width="1.1"/>
<circle cx="471.45" cy="517.62" r="1.70" fill="none" stroke="#231f20" stroke-width="1.1"/>
<circle cx="476.45" cy="517.62" r="1.70" fill="none" stroke="#231f20" stroke-width="1.1"/>
<circle cx="471.45" cy="520.45" r="1.70" fill="none" stroke="#231f20" stroke-width="1.1"/>
<circle cx="476.45" cy="520.45" r="1.70" fill="none" stroke="#231f20" stroke-width="1.1"/>
<line x1="493.30" y1="497.44" x2="493.30" y2="488.33" stroke="#231f20" stroke-width="1.1"/>
<line x1="490.30" y1="497.44" x2="496.30" y2="497.44" stroke="#231f20" stroke-width="1.1"/>
<line x1="490.30" y1="488.33" x2="496.30" y2="488.33" stroke="#231f20" stroke-width="1.1"/>
<circle cx="491.30" cy="487.25" r="1.70" fill="none" stroke="#231f20" stroke-width="1.1"/>
<circle cx="495.30" cy="486.16" r="1.70" fill="none" stroke="#231f20" stroke-width="1.1"/>
<circle cx="488.80" cy="495.93" r="1.70" fill="none" stroke="#231f20" stroke-width="1.1"/>
<circle cx="493.30" cy="494.41" r="1.70" fill="none" stroke="#231f20" stroke-width="1.1"/>
<circle cx="497.80" cy="495.93" r="1.70" fill="none" stroke="#231f20" stroke-width="1.1"/>
<circle cx="493.30" cy="496.58" r="1.70" fill="none" stroke="#231f20" stroke-width="1.1"/>
<line x1="445.55" y1="468.30" x2="445.55" y2="556.20" stroke="#231f20" stroke-width="1.3"/>
<line x1="444.95" y1="555.60" x2="502.95" y2="555.60" stroke="#231f20" stroke-width="1.3"/>
<line x1="441.55" y1="555.60" x2="445.55" y2="555.60" stroke="#231f20" stroke-width="1"/>
<text x="439.55" y="558.70" font-size="9.5" text-anchor="end" fill="#231f20" stroke="#231f20" stroke-width="0.13" transform="translate(439.55 558.70) scale(1 1.17) translate(-439.55 -558.70)">0</text>
<line x1="441.55" y1="533.90" x2="445.55" y2="533.90" stroke="#231f20" stroke-width="1"/>
<text x="439.55" y="537.00" font-size="9.5" text-anchor="end" fill="#231f20" stroke="#231f20" stroke-width="0.13" transform="translate(439.55 537.00) scale(1 1.17) translate(-439.55 -537.00)">10</text>
<line x1="441.55" y1="512.20" x2="445.55" y2="512.20" stroke="#231f20" stroke-width="1"/>
<text x="439.55" y="515.30" font-size="9.5" text-anchor="end" fill="#231f20" stroke="#231f20" stroke-width="0.13" transform="translate(439.55 515.30) scale(1 1.17) translate(-439.55 -515.30)">20</text>
<line x1="441.55" y1="490.50" x2="445.55" y2="490.50" stroke="#231f20" stroke-width="1"/>
<text x="439.55" y="493.60" font-size="9.5" text-anchor="end" fill="#231f20" stroke="#231f20" stroke-width="0.13" transform="translate(439.55 493.60) scale(1 1.17) translate(-439.55 -493.60)">30</text>
<line x1="441.55" y1="468.80" x2="445.55" y2="468.80" stroke="#231f20" stroke-width="1"/>
<text x="439.55" y="471.90" font-size="9.5" text-anchor="end" fill="#231f20" stroke="#231f20" stroke-width="0.13" transform="translate(439.55 471.90) scale(1 1.17) translate(-439.55 -471.90)">40</text>
<line x1="454.80" y1="555.60" x2="454.80" y2="559.40" stroke="#231f20" stroke-width="1"/>
<line x1="473.95" y1="555.60" x2="473.95" y2="559.40" stroke="#231f20" stroke-width="1"/>
<line x1="493.30" y1="555.60" x2="493.30" y2="559.40" stroke="#231f20" stroke-width="1"/>
<line x1="474.50" y1="478.70" x2="495.00" y2="478.70" stroke="#231f20" stroke-width="0.9"/>
<text x="484.75" y="479.50" font-size="10.5" text-anchor="middle" fill="#231f20" stroke="#231f20" stroke-width="0.13">**</text>
<text x="459.80" y="566.60" font-size="9.8" text-anchor="end" fill="#231f20" stroke="#231f20" stroke-width="0.13" transform="translate(459.80 566.60) rotate(-45) scale(1 1.17) translate(-459.80 -566.60)">Parental</text>
<text x="478.95" y="566.60" font-size="9.8" text-anchor="end" fill="#231f20" stroke="#231f20" stroke-width="0.13" transform="translate(478.95 566.60) rotate(-45) scale(1 1.17) translate(-478.95 -566.60)">Scramble</text>
<text x="498.30" y="566.60" font-size="9.8" text-anchor="end" fill="#231f20" stroke="#231f20" stroke-width="0.13" transform="translate(498.30 566.60) rotate(-45) scale(1 1.17) translate(-498.30 -566.60)">let-7a/f TuD</text>
<text x="8.40" y="633.90" font-size="13.6" text-anchor="start" fill="#231f20" font-weight="bold" stroke="#000" stroke-width="0.3">F</text>
<text x="96.60" y="649.80" font-size="9.5" text-anchor="middle" fill="#231f20" stroke="#231f20" stroke-width="0.13" transform="translate(96.60 649.80) scale(1 1.17) translate(-96.60 -649.80)" textLength="64.00" lengthAdjust="spacingAndGlyphs">1°erythroblasts</text>
<line x1="59.80" y1="653.00" x2="132.00" y2="653.00" stroke="#231f20" stroke-width="0.9"/>
<text x="50.00" y="704.40" font-size="9.5" text-anchor="start" fill="#231f20" stroke="#231f20" stroke-width="0.13" transform="translate(50.00 704.40) rotate(-90) scale(1 1.17) translate(-50.00 -704.40)" textLength="33.50" lengthAdjust="spacingAndGlyphs">HUDEP1</text>
<text x="74.20" y="704.40" font-size="9.5" text-anchor="start" fill="#231f20" stroke="#231f20" stroke-width="0.13" transform="translate(74.20 704.40) rotate(-90) scale(1 1.17) translate(-74.20 -704.40)" textLength="33.00" lengthAdjust="spacingAndGlyphs">Parental</text>
<text x="96.40" y="704.40" font-size="9.5" text-anchor="start" fill="#231f20" stroke="#231f20" stroke-width="0.13" transform="translate(96.40 704.40) rotate(-90) scale(1 1.17) translate(-96.40 -704.40)" textLength="37.50" lengthAdjust="spacingAndGlyphs">Scramble</text>
<text x="119.60" y="704.40" font-size="9.5" text-anchor="start" fill="#231f20" stroke="#231f20" stroke-width="0.13" transform="translate(119.60 704.40) rotate(-90) scale(1 1.17) translate(-119.60 -704.40)" textLength="49.00" lengthAdjust="spacingAndGlyphs">let-7a/f TuD</text>
<text x="19.60" y="704.80" font-size="9.5" text-anchor="middle" fill="#231f20" stroke="#231f20" stroke-width="0.13" transform="translate(19.60 704.80) scale(1 1.17) translate(-19.60 -704.80)">kD</text>
<rect x="35.50" y="709.50" width="93.70" height="12.80" fill="#d3d3d3" stroke="#231f20" stroke-width="1.1"/>
<text x="134.00" y="719.40" font-size="9.5" text-anchor="start" fill="#231f20" stroke="#231f20" stroke-width="0.13" transform="translate(134.00 719.40) scale(1 1.17) translate(-134.00 -719.40)">HIC2</text>
<rect x="35.50" y="724.30" width="93.70" height="12.60" fill="#c9c9c9" stroke="#231f20" stroke-width="1.1"/>
<text x="134.00" y="734.10" font-size="9.5" text-anchor="start" fill="#231f20" stroke="#231f20" stroke-width="0.13" transform="translate(134.00 734.10) scale(1 1.17) translate(-134.00 -734.10)">BCL11A</text>
<rect x="35.50" y="739.20" width="93.70" height="11.60" fill="#dcdcdc" stroke="#231f20" stroke-width="1.1"/>
<text x="134.00" y="748.50" font-size="9.5" text-anchor="start" fill="#231f20" stroke="#231f20" stroke-width="0.13" transform="translate(134.00 748.50) scale(1 1.17) translate(-134.00 -748.50)">ACTIN</text>
<rect x="35.50" y="753.80" width="93.70" height="12.40" fill="#dedede" stroke="#231f20" stroke-width="1.1"/>
<text x="134.00" y="763.50" font-size="9.5" text-anchor="start" fill="#231f20" stroke="#231f20" stroke-width="0.13" transform="translate(134.00 763.50) scale(1 1.17) translate(-134.00 -763.50)">LIN28B</text>
<rect x="35.50" y="768.90" width="93.70" height="12.30" fill="#dcdcdc" stroke="#231f20" stroke-width="1.1"/>
<text x="134.00" y="778.55" font-size="9.5" text-anchor="start" fill="#231f20" stroke="#231f20" stroke-width="0.13" transform="translate(134.00 778.55) scale(1 1.17) translate(-134.00 -778.55)">HBG</text>
<line x1="35.00" y1="737.30" x2="129.50" y2="737.30" stroke="#555" stroke-width="1.6"/>
<line x1="29.30" y1="714.60" x2="35.50" y2="714.60" stroke="#231f20" stroke-width="1.0"/>
<text x="25.50" y="716.80" font-size="9.8" text-anchor="end" fill="#231f20" stroke="#231f20" stroke-width="0.13" transform="translate(25.50 716.80) scale(1 1.17) translate(-25.50 -716.80)">75</text>
<line x1="29.30" y1="733.80" x2="35.50" y2="733.80" stroke="#231f20" stroke-width="1.0"/>
<text x="25.50" y="737.20" font-size="9.8" text-anchor="end" fill="#231f20" stroke="#231f20" stroke-width="0.13" transform="translate(25.50 737.20) scale(1 1.17) translate(-25.50 -737.20)">100</text>
<line x1="29.30" y1="750.00" x2="35.50" y2="750.00" stroke="#231f20" stroke-width="1.0"/>
<text x="25.50" y="750.90" font-size="9.8" text-anchor="end" fill="#231f20" stroke="#231f20" stroke-width="0.13" transform="translate(25.50 750.90) scale(1 1.17) translate(-25.50 -750.90)">37</text>
<line x1="29.30" y1="755.00" x2="35.50" y2="755.00" stroke="#231f20" stroke-width="1.0"/>
<text x="25.50" y="759.80" font-size="9.8" text-anchor="end" fill="#231f20" stroke="#231f20" stroke-width="0.13" transform="translate(25.50 759.80) scale(1 1.17) translate(-25.50 -759.80)">37</text>
<line x1="29.30" y1="769.50" x2="35.50" y2="769.50" stroke="#231f20" stroke-width="1.0"/>
<text x="25.50" y="772.40" font-size="9.8" text-anchor="end" fill="#231f20" stroke="#231f20" stroke-width="0.13" transform="translate(25.50 772.40) scale(1 1.17) translate(-25.50 -772.40)">15</text>
<rect x="39.60" y="715.90" width="16.20" height="2.60" fill="#a9a9a9" rx="1.30" filter="url(#blur)"/>
<rect x="62.70" y="717.00" width="15.30" height="2.60" fill="#b4b4b4" rx="1.30" filter="url(#blur)"/>
<rect x="85.00" y="717.00" width="16.50" height="2.60" fill="#bcbcbc" rx="1.30" filter="url(#blur)"/>
<rect x="109.20" y="714.70" width="15.40" height="4.20" fill="#5a5a5a" rx="2.10" filter="url(#blur)"/>
<rect x="61.50" y="729.30" width="17.00" height="3.80" fill="#7c7c7c" rx="1.90" filter="url(#blur)"/>
<rect x="84.60" y="729.30" width="16.90" height="3.80" fill="#7f7f7f" rx="1.90" filter="url(#blur)"/>
<rect x="108.50" y="729.40" width="16.10" height="3.60" fill="#909090" rx="1.80" filter="url(#blur)"/>
<rect x="38.80" y="743.90" width="17.70" height="3.40" fill="#151515" rx="1.70" filter="url(#blur)"/>
<rect x="62.30" y="743.90" width="16.90" height="3.40" fill="#151515" rx="1.70" filter="url(#blur)"/>
<rect x="83.80" y="743.90" width="18.50" height="3.40" fill="#151515" rx="1.70" filter="url(#blur)"/>
<rect x="107.70" y="743.90" width="16.90" height="3.40" fill="#151515" rx="1.70" filter="url(#blur)"/>
<rect x="38.30" y="757.10" width="19.20" height="7.60" fill="#050505" rx="3.80" filter="url(#blur3)"/>
<rect x="36.50" y="772.00" width="24.10" height="6.80" fill="#050505" rx="3.40" filter="url(#blur3)"/>
<rect x="63.80" y="774.60" width="16.20" height="2.40" fill="#3a3a3a" rx="1.20" filter="url(#blur)"/>
<rect x="85.40" y="774.30" width="17.60" height="2.60" fill="#3a3a3a" rx="1.30" filter="url(#blur)"/>
<rect x="108.50" y="772.40" width="19.20" height="5.20" fill="#0f0f0f" rx="2.60" filter="url(#blur3)"/>
<text x="185.90" y="633.90" font-size="13.6" text-anchor="start" fill="#231f20" font-weight="bold" stroke="#000" stroke-width="0.3">G</text>
<text x="287.20" y="658.50" font-size="9.5" text-anchor="middle" fill="#231f20" stroke="#231f20" stroke-width="0.13" transform="translate(287.20 658.50) scale(1 1.17) translate(-287.20 -658.50)" textLength="111.50" lengthAdjust="spacingAndGlyphs">RNA-seq: 1° erythroblasts</text>
<polygon points="243.75,752.50 246.25,742.50 255.00,735.00 267.50,728.75 280.00,722.50 291.25,716.25 300.00,708.75 310.00,702.50 320.00,697.50 322.50,696.25 320.00,700.00 310.00,710.00 300.00,721.25 290.00,732.50 280.00,743.75 271.25,753.75 266.25,760.00 265.00,765.00 246.25,765.00" fill="#b3b3b3" stroke="#bdbdbd" stroke-width="1.0" stroke-linejoin="round" filter="url(#blur2)"/>
<polygon points="248.00,762.00 248.00,750.00 256.00,740.00 270.00,732.00 284.00,724.00 296.00,715.00 306.00,707.00 316.00,700.00 312.00,706.00 302.00,716.00 292.00,727.00 280.00,739.00 270.00,750.00 262.00,759.00 256.00,762.00" fill="#a6a6a6" filter="url(#blur4)"/>
<path d="M277.6 743.1h.8v.8h-.8zM279.0 738.5h.8v.8h-.8zM250.7 754.3h.8v.8h-.8zM309.7 709.4h.8v.8h-.8zM297.7 722.1h.8v.8h-.8zM263.5 764.5h.8v.8h-.8zM264.1 752.9h.8v.8h-.8zM288.2 719.9h.8v.8h-.8zM289.6 726.1h.8v.8h-.8zM285.7 739.1h.8v.8h-.8zM280.8 727.9h.8v.8h-.8zM286.1 720.2h.8v.8h-.8zM301.3 712.2h.8v.8h-.8zM305.5 714.5h.8v.8h-.8zM246.6 749.1h.8v.8h-.8zM267.3 733.6h.8v.8h-.8zM284.4 716.9h.8v.8h-.8zM296.4 716.7h.8v.8h-.8zM301.3 724.4h.8v.8h-.8zM300.7 720.4h.8v.8h-.8zM263.3 749.2h.8v.8h-.8zM263.4 741.3h.8v.8h-.8zM249.0 747.2h.8v.8h-.8zM307.5 703.3h.8v.8h-.8zM282.3 745.0h.8v.8h-.8zM268.9 747.4h.8v.8h-.8zM291.3 721.4h.8v.8h-.8zM292.5 724.8h.8v.8h-.8zM281.0 723.9h.8v.8h-.8zM307.5 711.3h.8v.8h-.8zM276.0 732.2h.8v.8h-.8zM253.3 752.8h.8v.8h-.8zM273.9 737.6h.8v.8h-.8zM278.8 737.8h.8v.8h-.8zM295.0 721.7h.8v.8h-.8zM264.4 752.8h.8v.8h-.8zM280.9 728.4h.8v.8h-.8zM271.5 744.2h.8v.8h-.8zM258.4 764.3h.8v.8h-.8zM255.7 762.0h.8v.8h-.8zM309.3 704.4h.8v.8h-.8zM303.9 711.8h.8v.8h-.8zM276.0 740.9h.8v.8h-.8zM306.5 707.2h.8v.8h-.8zM261.0 739.6h.8v.8h-.8zM269.7 742.4h.8v.8h-.8zM313.4 697.5h.8v.8h-.8zM274.8 735.5h.8v.8h-.8zM266.9 749.3h.8v.8h-.8zM278.2 723.1h.8v.8h-.8zM247.7 746.3h.8v.8h-.8zM277.5 723.6h.8v.8h-.8zM275.2 741.0h.8v.8h-.8zM317.4 700.9h.8v.8h-.8zM267.4 757.5h.8v.8h-.8zM307.7 706.1h.8v.8h-.8zM272.1 736.4h.8v.8h-.8zM294.4 718.8h.8v.8h-.8zM284.7 737.1h.8v.8h-.8zM274.2 744.8h.8v.8h-.8zM266.0 740.5h.8v.8h-.8zM278.5 727.1h.8v.8h-.8zM283.4 735.8h.8v.8h-.8zM249.4 755.6h.8v.8h-.8zM251.0 757.6h.8v.8h-.8zM289.5 725.9h.8v.8h-.8zM288.9 723.9h.8v.8h-.8zM268.1 738.8h.8v.8h-.8zM288.1 723.2h.8v.8h-.8zM286.0 728.9h.8v.8h-.8zM276.9 727.0h.8v.8h-.8zM310.7 703.1h.8v.8h-.8zM295.2 730.7h.8v.8h-.8zM283.1 732.9h.8v.8h-.8zM248.9 749.0h.8v.8h-.8zM298.9 712.9h.8v.8h-.8zM313.2 706.4h.8v.8h-.8zM284.4 727.0h.8v.8h-.8zM255.8 741.9h.8v.8h-.8zM274.9 741.1h.8v.8h-.8zM288.2 723.0h.8v.8h-.8zM292.7 732.4h.8v.8h-.8zM306.3 711.1h.8v.8h-.8zM305.2 711.7h.8v.8h-.8zM285.5 738.9h.8v.8h-.8zM314.4 702.6h.8v.8h-.8zM264.9 760.5h.8v.8h-.8zM315.1 700.0h.8v.8h-.8zM257.0 754.8h.8v.8h-.8zM268.1 732.8h.8v.8h-.8zM273.6 745.9h.8v.8h-.8zM264.4 750.9h.8v.8h-.8zM270.4 736.0h.8v.8h-.8zM268.5 753.4h.8v.8h-.8zM275.8 750.4h.8v.8h-.8zM282.8 728.1h.8v.8h-.8zM305.1 705.8h.8v.8h-.8zM281.2 721.6h.8v.8h-.8zM276.5 740.1h.8v.8h-.8zM271.2 733.4h.8v.8h-.8zM254.1 753.6h.8v.8h-.8zM310.6 706.7h.8v.8h-.8zM270.6 740.5h.8v.8h-.8zM281.7 733.5h.8v.8h-.8zM316.6 698.1h.8v.8h-.8zM274.9 735.4h.8v.8h-.8zM280.5 726.3h.8v.8h-.8zM269.2 742.3h.8v.8h-.8zM258.0 760.6h.8v.8h-.8zM292.0 729.5h.8v.8h-.8zM301.7 715.4h.8v.8h-.8zM274.4 761.8h.8v.8h-.8zM258.0 760.8h.8v.8h-.8zM304.5 706.3h.8v.8h-.8zM287.6 731.3h.8v.8h-.8zM309.5 699.9h.8v.8h-.8zM268.9 746.4h.8v.8h-.8zM308.3 707.5h.8v.8h-.8zM291.4 719.6h.8v.8h-.8zM301.5 712.4h.8v.8h-.8zM301.5 722.6h.8v.8h-.8zM270.5 743.2h.8v.8h-.8zM304.9 715.5h.8v.8h-.8zM300.4 717.6h.8v.8h-.8zM296.8 720.4h.8v.8h-.8zM279.1 747.3h.8v.8h-.8zM254.4 752.8h.8v.8h-.8zM262.7 733.4h.8v.8h-.8zM290.1 736.6h.8v.8h-.8zM321.6 706.1h.8v.8h-.8zM309.9 710.6h.8v.8h-.8zM317.8 702.7h.8v.8h-.8zM246.1 736.9h.8v.8h-.8zM291.9 731.5h.8v.8h-.8zM270.4 748.7h.8v.8h-.8zM283.8 728.3h.8v.8h-.8zM257.7 746.8h.8v.8h-.8zM302.6 711.7h.8v.8h-.8zM312.2 700.3h.8v.8h-.8zM282.7 738.1h.8v.8h-.8zM272.3 733.1h.8v.8h-.8zM308.3 709.2h.8v.8h-.8zM267.8 742.5h.8v.8h-.8zM319.7 700.4h.8v.8h-.8zM300.0 725.1h.8v.8h-.8zM250.5 751.2h.8v.8h-.8zM300.8 712.4h.8v.8h-.8zM262.1 754.2h.8v.8h-.8zM267.8 738.9h.8v.8h-.8zM277.3 746.4h.8v.8h-.8zM264.1 750.5h.8v.8h-.8zM264.3 739.7h.8v.8h-.8zM283.6 732.9h.8v.8h-.8zM259.3 755.9h.8v.8h-.8zM293.6 727.1h.8v.8h-.8zM288.2 728.6h.8v.8h-.8zM253.8 752.2h.8v.8h-.8zM297.2 722.0h.8v.8h-.8zM269.8 739.6h.8v.8h-.8zM311.5 708.1h.8v.8h-.8zM247.4 751.8h.8v.8h-.8zM250.0 760.5h.8v.8h-.8zM310.2 711.7h.8v.8h-.8zM262.2 751.0h.8v.8h-.8zM314.3 700.2h.8v.8h-.8zM285.9 720.6h.8v.8h-.8zM272.2 750.1h.8v.8h-.8zM269.3 744.2h.8v.8h-.8zM264.5 756.7h.8v.8h-.8zM263.0 741.7h.8v.8h-.8zM259.8 726.8h.8v.8h-.8zM276.7 723.0h.8v.8h-.8zM316.1 699.9h.8v.8h-.8zM297.2 717.7h.8v.8h-.8zM298.5 720.0h.8v.8h-.8zM280.0 732.7h.8v.8h-.8zM304.6 709.8h.8v.8h-.8zM284.2 750.6h.8v.8h-.8zM265.1 745.7h.8v.8h-.8zM261.4 745.5h.8v.8h-.8zM298.1 718.7h.8v.8h-.8zM319.1 699.6h.8v.8h-.8zM245.4 745.4h.8v.8h-.8zM318.6 695.0h.8v.8h-.8zM270.6 756.0h.8v.8h-.8zM277.3 736.7h.8v.8h-.8zM266.2 750.9h.8v.8h-.8zM270.4 761.6h.8v.8h-.8zM277.3 739.7h.8v.8h-.8zM282.4 730.9h.8v.8h-.8zM257.4 739.6h.8v.8h-.8zM307.3 708.7h.8v.8h-.8zM265.6 768.3h.8v.8h-.8zM316.1 707.3h.8v.8h-.8zM315.5 698.4h.8v.8h-.8zM266.4 737.0h.8v.8h-.8zM309.4 699.4h.8v.8h-.8zM285.6 728.9h.8v.8h-.8zM277.9 732.6h.8v.8h-.8zM263.7 746.1h.8v.8h-.8zM307.0 708.0h.8v.8h-.8zM278.9 739.1h.8v.8h-.8zM263.3 746.2h.8v.8h-.8zM288.0 726.7h.8v.8h-.8zM313.5 706.1h.8v.8h-.8zM285.6 727.6h.8v.8h-.8zM260.8 736.9h.8v.8h-.8zM305.6 702.5h.8v.8h-.8zM309.0 705.0h.8v.8h-.8zM270.1 752.6h.8v.8h-.8zM265.4 753.6h.8v.8h-.8zM320.4 699.0h.8v.8h-.8zM300.1 705.0h.8v.8h-.8zM310.0 708.2h.8v.8h-.8zM252.4 755.5h.8v.8h-.8zM300.4 731.0h.8v.8h-.8zM309.1 703.8h.8v.8h-.8zM243.0 737.4h.8v.8h-.8zM263.6 743.0h.8v.8h-.8zM294.2 723.6h.8v.8h-.8zM247.6 753.3h.8v.8h-.8zM268.7 748.8h.8v.8h-.8zM259.6 757.8h.8v.8h-.8zM254.5 751.0h.8v.8h-.8zM278.6 732.9h.8v.8h-.8zM288.2 723.2h.8v.8h-.8zM312.7 707.9h.8v.8h-.8zM274.0 753.6h.8v.8h-.8zM280.8 734.7h.8v.8h-.8zM258.3 744.1h.8v.8h-.8zM295.9 719.6h.8v.8h-.8zM283.1 725.1h.8v.8h-.8zM287.9 726.4h.8v.8h-.8zM318.0 699.6h.8v.8h-.8zM318.1 704.4h.8v.8h-.8zM281.4 737.0h.8v.8h-.8zM311.2 710.2h.8v.8h-.8zM311.9 708.3h.8v.8h-.8zM260.8 739.3h.8v.8h-.8zM268.8 743.0h.8v.8h-.8zM243.1 747.7h.8v.8h-.8zM260.0 752.8h.8v.8h-.8zM293.5 717.8h.8v.8h-.8zM293.6 716.4h.8v.8h-.8zM245.9 751.5h.8v.8h-.8zM308.6 715.1h.8v.8h-.8zM285.0 730.5h.8v.8h-.8zM281.5 731.8h.8v.8h-.8zM299.9 724.0h.8v.8h-.8zM246.0 747.7h.8v.8h-.8zM320.2 703.8h.8v.8h-.8zM307.7 710.3h.8v.8h-.8zM292.4 737.2h.8v.8h-.8zM318.8 704.6h.8v.8h-.8zM307.6 714.8h.8v.8h-.8zM268.3 759.2h.8v.8h-.8zM265.0 744.7h.8v.8h-.8zM265.1 749.8h.8v.8h-.8zM298.8 718.1h.8v.8h-.8zM284.8 723.2h.8v.8h-.8zM308.0 702.2h.8v.8h-.8zM318.4 696.3h.8v.8h-.8zM307.5 707.9h.8v.8h-.8zM301.9 710.3h.8v.8h-.8zM307.5 717.6h.8v.8h-.8zM320.4 699.9h.8v.8h-.8zM273.1 740.8h.8v.8h-.8zM283.3 736.2h.8v.8h-.8zM261.5 751.2h.8v.8h-.8zM275.5 736.9h.8v.8h-.8zM259.2 738.7h.8v.8h-.8zM289.9 735.8h.8v.8h-.8zM268.7 743.4h.8v.8h-.8zM300.1 706.5h.8v.8h-.8zM245.2 751.8h.8v.8h-.8zM287.1 735.3h.8v.8h-.8zM268.5 743.3h.8v.8h-.8zM266.9 743.0h.8v.8h-.8zM236.5 743.8h.8v.8h-.8zM293.2 722.6h.8v.8h-.8zM308.5 709.3h.8v.8h-.8zM313.2 703.2h.8v.8h-.8zM255.0 762.0h.8v.8h-.8zM283.2 732.2h.8v.8h-.8zM270.9 748.3h.8v.8h-.8zM305.4 702.2h.8v.8h-.8zM283.3 717.6h.8v.8h-.8zM295.1 718.3h.8v.8h-.8zM313.4 706.1h.8v.8h-.8zM319.3 702.8h.8v.8h-.8zM311.4 704.5h.8v.8h-.8zM295.0 711.5h.8v.8h-.8zM285.2 733.2h.8v.8h-.8zM297.7 711.1h.8v.8h-.8zM263.1 743.9h.8v.8h-.8zM251.5 755.7h.8v.8h-.8zM275.0 738.9h.8v.8h-.8zM295.3 719.4h.8v.8h-.8zM249.5 749.9h.8v.8h-.8zM310.2 700.6h.8v.8h-.8zM314.8 703.3h.8v.8h-.8zM256.1 757.5h.8v.8h-.8zM295.5 721.4h.8v.8h-.8zM259.4 754.0h.8v.8h-.8zM271.6 737.6h.8v.8h-.8zM302.0 717.3h.8v.8h-.8zM313.8 695.5h.8v.8h-.8zM276.9 732.6h.8v.8h-.8zM271.7 735.6h.8v.8h-.8zM267.8 763.2h.8v.8h-.8zM254.5 761.1h.8v.8h-.8zM282.9 728.1h.8v.8h-.8zM258.0 742.1h.8v.8h-.8zM314.6 699.7h.8v.8h-.8zM297.5 713.7h.8v.8h-.8zM303.9 707.8h.8v.8h-.8zM292.5 716.3h.8v.8h-.8zM263.6 760.1h.8v.8h-.8zM265.2 743.7h.8v.8h-.8zM312.0 704.9h.8v.8h-.8zM286.0 725.3h.8v.8h-.8zM270.3 735.9h.8v.8h-.8zM295.8 716.2h.8v.8h-.8zM293.5 725.6h.8v.8h-.8zM312.6 703.7h.8v.8h-.8zM312.8 710.4h.8v.8h-.8zM265.4 740.4h.8v.8h-.8zM268.5 750.3h.8v.8h-.8zM259.6 752.6h.8v.8h-.8zM310.5 713.6h.8v.8h-.8zM261.8 744.6h.8v.8h-.8zM257.0 762.5h.8v.8h-.8zM294.2 710.9h.8v.8h-.8zM291.6 722.4h.8v.8h-.8zM311.5 700.1h.8v.8h-.8zM260.3 737.1h.8v.8h-.8zM301.1 708.7h.8v.8h-.8zM276.0 726.0h.8v.8h-.8zM248.8 743.0h.8v.8h-.8zM259.8 736.2h.8v.8h-.8zM289.9 716.3h.8v.8h-.8zM295.1 716.4h.8v.8h-.8zM285.3 728.8h.8v.8h-.8zM305.2 709.5h.8v.8h-.8zM250.3 745.3h.8v.8h-.8zM291.3 714.3h.8v.8h-.8zM281.4 735.5h.8v.8h-.8zM302.5 710.6h.8v.8h-.8zM278.5 739.6h.8v.8h-.8zM278.6 733.5h.8v.8h-.8zM274.9 736.1h.8v.8h-.8zM278.2 718.3h.8v.8h-.8zM278.4 734.9h.8v.8h-.8zM287.4 713.5h.8v.8h-.8zM270.3 747.9h.8v.8h-.8zM302.9 704.8h.8v.8h-.8zM294.4 728.6h.8v.8h-.8zM275.9 749.8h.8v.8h-.8zM280.0 732.0h.8v.8h-.8zM262.8 739.9h.8v.8h-.8zM275.1 726.6h.8v.8h-.8zM315.3 710.5h.8v.8h-.8zM313.2 703.5h.8v.8h-.8zM245.5 749.7h.8v.8h-.8zM296.3 718.4h.8v.8h-.8zM305.6 712.6h.8v.8h-.8zM313.1 704.0h.8v.8h-.8zM301.6 706.6h.8v.8h-.8zM305.6 710.5h.8v.8h-.8zM297.1 710.1h.8v.8h-.8zM289.2 724.5h.8v.8h-.8zM258.9 759.8h.8v.8h-.8zM279.5 723.2h.8v.8h-.8zM307.6 706.7h.8v.8h-.8zM297.6 717.3h.8v.8h-.8zM261.8 759.8h.8v.8h-.8zM244.2 749.9h.8v.8h-.8zM317.1 697.4h.8v.8h-.8zM316.4 706.1h.8v.8h-.8zM308.2 704.6h.8v.8h-.8z" fill="#bababa"/>
<path d="M333.2 682.3h.8v.8h-.8zM330.0 685.7h.8v.8h-.8zM340.3 676.1h.8v.8h-.8zM329.5 686.1h.8v.8h-.8zM333.8 683.1h.8v.8h-.8zM339.5 676.2h.8v.8h-.8zM326.5 688.3h.8v.8h-.8zM340.8 676.1h.8v.8h-.8zM341.9 673.0h.8v.8h-.8zM328.0 688.9h.8v.8h-.8zM342.1 671.4h.8v.8h-.8zM340.7 675.1h.8v.8h-.8zM334.6 679.5h.8v.8h-.8zM334.7 680.4h.8v.8h-.8zM335.4 679.3h.8v.8h-.8zM322.6 694.5h.8v.8h-.8zM340.4 675.5h.8v.8h-.8zM329.8 685.8h.8v.8h-.8zM334.0 682.5h.8v.8h-.8zM330.2 686.4h.8v.8h-.8zM336.3 679.6h.8v.8h-.8zM334.6 681.8h.8v.8h-.8zM338.7 674.3h.8v.8h-.8zM332.0 685.0h.8v.8h-.8zM336.9 680.2h.8v.8h-.8zM331.6 684.4h.8v.8h-.8zM336.2 680.0h.8v.8h-.8zM321.6 696.6h.8v.8h-.8zM323.4 693.6h.8v.8h-.8zM341.8 673.6h.8v.8h-.8zM338.0 678.9h.8v.8h-.8zM326.0 692.4h.8v.8h-.8zM338.6 676.7h.8v.8h-.8zM321.2 693.8h.8v.8h-.8zM332.1 684.3h.8v.8h-.8zM344.1 670.8h.8v.8h-.8zM319.5 695.4h.8v.8h-.8zM321.5 696.0h.8v.8h-.8zM324.7 691.8h.8v.8h-.8zM320.8 696.2h.8v.8h-.8z" fill="#cccccc"/>
<line x1="232.60" y1="720.00" x2="232.60" y2="762.00" stroke="#bcbcbc" stroke-width="0.8"/>
<line x1="242.50" y1="750.00" x2="242.50" y2="767.50" stroke="#c4c4c4" stroke-width="0.7"/>
<line x1="245.00" y1="748.00" x2="245.00" y2="767.50" stroke="#cccccc" stroke-width="0.6"/>
<line x1="246.20" y1="776.30" x2="291.20" y2="776.30" stroke="#b8b8b8" stroke-width="0.9"/>
<line x1="245.00" y1="763.80" x2="263.00" y2="763.80" stroke="#c4c4c4" stroke-width="0.7"/>
<line x1="245.00" y1="767.00" x2="262.00" y2="767.00" stroke="#cacaca" stroke-width="0.7"/>
<line x1="232.70" y1="776.40" x2="346.00" y2="668.20" stroke="#e88a8a" stroke-width="0.7" stroke-dasharray="2,1.8" opacity="0.8"/>
<rect x="227.6" y="664.8" width="120.40" height="116.40" fill="none" stroke="#231f20" stroke-width="1.1"/>
<line x1="224.10" y1="668.30" x2="227.60" y2="668.30" stroke="#231f20" stroke-width="1"/>
<text x="221.60" y="671.70" font-size="9.8" text-anchor="end" fill="#231f20" stroke="#231f20" stroke-width="0.13" transform="translate(221.60 671.70) scale(1 1.17) translate(-221.60 -671.70)">20</text>
<line x1="224.10" y1="704.35" x2="227.60" y2="704.35" stroke="#231f20" stroke-width="1"/>
<text x="221.60" y="707.75" font-size="9.8" text-anchor="end" fill="#231f20" stroke="#231f20" stroke-width="0.13" transform="translate(221.60 707.75) scale(1 1.17) translate(-221.60 -707.75)">10</text>
<line x1="224.10" y1="740.40" x2="227.60" y2="740.40" stroke="#231f20" stroke-width="1"/>
<text x="221.60" y="743.80" font-size="9.8" text-anchor="end" fill="#231f20" stroke="#231f20" stroke-width="0.13" transform="translate(221.60 743.80) scale(1 1.17) translate(-221.60 -743.80)">0</text>
<line x1="224.10" y1="776.45" x2="227.60" y2="776.45" stroke="#231f20" stroke-width="1"/>
<text x="221.60" y="779.85" font-size="9.8" text-anchor="end" fill="#231f20" stroke="#231f20" stroke-width="0.13" transform="translate(221.60 779.85) scale(1 1.17) translate(-221.60 -779.85)">−10</text>
<line x1="232.40" y1="781.20" x2="232.40" y2="784.40" stroke="#231f20" stroke-width="1"/>
<text x="232.40" y="796.40" font-size="9.8" text-anchor="middle" fill="#231f20" stroke="#231f20" stroke-width="0.13" transform="translate(232.40 796.40) scale(1 1.17) translate(-232.40 -796.40)">−10</text>
<line x1="270.30" y1="781.20" x2="270.30" y2="784.40" stroke="#231f20" stroke-width="1"/>
<text x="270.30" y="796.40" font-size="9.8" text-anchor="middle" fill="#231f20" stroke="#231f20" stroke-width="0.13" transform="translate(270.30 796.40) scale(1 1.17) translate(-270.30 -796.40)">0</text>
<line x1="308.20" y1="781.20" x2="308.20" y2="784.40" stroke="#231f20" stroke-width="1"/>
<text x="308.20" y="796.40" font-size="9.8" text-anchor="middle" fill="#231f20" stroke="#231f20" stroke-width="0.13" transform="translate(308.20 796.40) scale(1 1.17) translate(-308.20 -796.40)">10</text>
<line x1="346.10" y1="781.20" x2="346.10" y2="784.40" stroke="#231f20" stroke-width="1"/>
<text x="346.10" y="796.40" font-size="9.8" text-anchor="middle" fill="#231f20" stroke="#231f20" stroke-width="0.13" transform="translate(346.10 796.40) scale(1 1.17) translate(-346.10 -796.40)">20</text>
<text x="243.80" y="812.60" font-size="9.5" text-anchor="start" fill="#231f20" stroke="#231f20" stroke-width="0.13" transform="translate(243.80 812.60) scale(1 1.17) translate(-243.80 -812.60)" textLength="79.00" lengthAdjust="spacingAndGlyphs">Scramble FPKM (log</text>
<text x="323.30" y="815.00" font-size="7" text-anchor="start" fill="#231f20" stroke="#231f20" stroke-width="0.13" transform="translate(323.30 815.00) scale(1 1.17) translate(-323.30 -815.00)">2</text>
<text x="327.80" y="812.60" font-size="9.5" text-anchor="start" fill="#231f20" stroke="#231f20" stroke-width="0.13" transform="translate(327.80 812.60) scale(1 1.17) translate(-327.80 -812.60)">)</text>
<text x="196.00" y="771.00" font-size="9.5" text-anchor="start" fill="#231f20" stroke="#231f20" stroke-width="0.13" transform="translate(196.00 771.00) rotate(-90) scale(1 1.17) translate(-196.00 -771.00)" textLength="88.50" lengthAdjust="spacingAndGlyphs">let-7a/f TuD FPKM (log</text>
<text x="198.50" y="682.20" font-size="7" text-anchor="start" fill="#231f20" stroke="#231f20" stroke-width="0.13" transform="translate(198.50 682.20) rotate(-90) scale(1 1.17) translate(-198.50 -682.20)">2</text>
<text x="196.00" y="677.80" font-size="9.5" text-anchor="start" fill="#231f20" stroke="#231f20" stroke-width="0.13" transform="translate(196.00 677.80) rotate(-90) scale(1 1.17) translate(-196.00 -677.80)">)</text>
<line x1="327.70" y1="673.40" x2="335.20" y2="679.00" stroke="#333" stroke-width="0.8"/>
<line x1="309.20" y1="683.80" x2="314.00" y2="692.10" stroke="#333" stroke-width="0.8"/>
<line x1="299.80" y1="697.50" x2="302.70" y2="707.60" stroke="#333" stroke-width="0.8"/>
<line x1="281.80" y1="706.10" x2="287.10" y2="714.10" stroke="#333" stroke-width="0.8"/>
<line x1="280.40" y1="716.20" x2="282.50" y2="724.90" stroke="#333" stroke-width="0.8"/>
<line x1="268.80" y1="724.20" x2="279.30" y2="724.20" stroke="#333" stroke-width="0.8"/>
<line x1="317.00" y1="711.30" x2="301.00" y2="712.10" stroke="#333" stroke-width="0.8"/>
<line x1="309.50" y1="721.30" x2="293.50" y2="718.50" stroke="#333" stroke-width="0.8"/>
<line x1="301.50" y1="733.40" x2="294.00" y2="722.50" stroke="#333" stroke-width="0.8"/>
<circle cx="335.20" cy="679.00" r="1.50" fill="#d42a30" stroke="none" stroke-width="0"/>
<text x="318.40" y="673.40" font-size="9.8" text-anchor="middle" fill="#231f20" stroke="#231f20" stroke-width="0.13" transform="translate(318.40 673.40) scale(1 1.17) translate(-318.40 -673.40)">HBB</text>
<circle cx="314.00" cy="692.10" r="1.50" fill="#d42a30" stroke="none" stroke-width="0"/>
<text x="296.60" y="683.00" font-size="9.8" text-anchor="middle" fill="#231f20" stroke="#231f20" stroke-width="0.13" transform="translate(296.60 683.00) scale(1 1.17) translate(-296.60 -683.00)">HBG2</text>
<circle cx="302.70" cy="707.60" r="1.50" fill="#d42a30" stroke="none" stroke-width="0"/>
<text x="293.70" y="696.00" font-size="9.8" text-anchor="middle" fill="#231f20" stroke="#231f20" stroke-width="0.13" transform="translate(293.70 696.00) scale(1 1.17) translate(-293.70 -696.00)">HBG1</text>
<circle cx="287.10" cy="714.10" r="1.50" fill="#d42a30" stroke="none" stroke-width="0"/>
<text x="270.60" y="704.70" font-size="9.8" text-anchor="middle" fill="#231f20" stroke="#231f20" stroke-width="0.13" transform="translate(270.60 704.70) scale(1 1.17) translate(-270.60 -704.70)">HBE1</text>
<circle cx="282.50" cy="724.90" r="1.50" fill="#d42a30" stroke="none" stroke-width="0"/>
<text x="269.10" y="715.50" font-size="9.8" text-anchor="middle" fill="#231f20" stroke="#231f20" stroke-width="0.13" transform="translate(269.10 715.50) scale(1 1.17) translate(-269.10 -715.50)">HIC2</text>
<circle cx="279.30" cy="724.20" r="1.50" fill="#d42a30" stroke="none" stroke-width="0"/>
<text x="259.00" y="728.50" font-size="9.8" text-anchor="middle" fill="#231f20" stroke="#231f20" stroke-width="0.13" transform="translate(259.00 728.50) scale(1 1.17) translate(-259.00 -728.50)">HBZ</text>
<circle cx="301.00" cy="712.10" r="1.50" fill="#d42a30" stroke="none" stroke-width="0"/>
<text x="332.10" y="712.70" font-size="9.8" text-anchor="middle" fill="#231f20" stroke="#231f20" stroke-width="0.13" transform="translate(332.10 712.70) scale(1 1.17) translate(-332.10 -712.70)">GATA1</text>
<circle cx="293.50" cy="718.50" r="1.50" fill="#d42a30" stroke="none" stroke-width="0"/>
<text x="328.00" y="726.50" font-size="9.8" text-anchor="middle" fill="#231f20" stroke="#231f20" stroke-width="0.13" transform="translate(328.00 726.50) scale(1 1.17) translate(-328.00 -726.50)">ZBTB7A</text>
<circle cx="294.00" cy="722.50" r="1.50" fill="#d42a30" stroke="none" stroke-width="0"/>
<text x="317.50" y="742.40" font-size="9.8" text-anchor="middle" fill="#231f20" stroke="#231f20" stroke-width="0.13" transform="translate(317.50 742.40) scale(1 1.17) translate(-317.50 -742.40)">BCL11A</text>
<text x="389.30" y="633.90" font-size="13.6" text-anchor="start" fill="#231f20" font-weight="bold" stroke="#000" stroke-width="0.3">H</text>
<text x="460.00" y="656.30" font-size="9.5" text-anchor="middle" fill="#231f20" stroke="#231f20" stroke-width="0.13" transform="translate(460.00 656.30) scale(1 1.17) translate(-460.00 -656.30)">1° adult erythroblasts</text>
<text x="434.80" y="679.50" font-size="9.5" text-anchor="middle" fill="#231f20" stroke="#231f20" stroke-width="0.13" transform="translate(434.80 679.50) scale(1 1.17) translate(-434.80 -679.50)">Control</text>
<text x="493.00" y="675.00" font-size="9.5" text-anchor="middle" fill="#231f20" stroke="#231f20" stroke-width="0.13" transform="translate(493.00 675.00) scale(1 1.17) translate(-493.00 -675.00)">let-7</text>
<text x="492.50" y="686.70" font-size="9.5" text-anchor="middle" fill="#231f20" stroke="#231f20" stroke-width="0.13" transform="translate(492.50 686.70) scale(1 1.17) translate(-492.50 -686.70)">inhibition</text>
<text x="435.60" y="699.40" font-size="9.5" text-anchor="middle" fill="#231f20" stroke="#231f20" stroke-width="0.13" transform="translate(435.60 699.40) scale(1 1.17) translate(-435.60 -699.40)">let-7</text>
<rect x="412.30" y="702.50" width="44.60" height="1.20" fill="#4a2a5a"/>
<line x1="419.00" y1="703.50" x2="419.00" y2="707.80" stroke="#8a4fa2" stroke-width="1.15"/>
<line x1="420.75" y1="703.50" x2="420.75" y2="707.80" stroke="#8a4fa2" stroke-width="1.15"/>
<line x1="422.50" y1="703.50" x2="422.50" y2="707.80" stroke="#8a4fa2" stroke-width="1.15"/>
<line x1="424.25" y1="703.50" x2="424.25" y2="707.80" stroke="#8a4fa2" stroke-width="1.15"/>
<line x1="426.00" y1="703.50" x2="426.00" y2="707.80" stroke="#8a4fa2" stroke-width="1.15"/>
<line x1="427.75" y1="703.50" x2="427.75" y2="707.80" stroke="#8a4fa2" stroke-width="1.15"/>
<line x1="429.50" y1="703.50" x2="429.50" y2="707.80" stroke="#8a4fa2" stroke-width="1.15"/>
<line x1="431.25" y1="703.50" x2="431.25" y2="707.80" stroke="#8a4fa2" stroke-width="1.15"/>
<line x1="433.00" y1="703.50" x2="433.00" y2="707.80" stroke="#8a4fa2" stroke-width="1.15"/>
<line x1="434.75" y1="703.50" x2="434.75" y2="707.80" stroke="#8a4fa2" stroke-width="1.15"/>
<line x1="436.50" y1="703.50" x2="436.50" y2="707.80" stroke="#8a4fa2" stroke-width="1.15"/>
<line x1="438.25" y1="703.50" x2="438.25" y2="707.80" stroke="#8a4fa2" stroke-width="1.15"/>
<line x1="440.00" y1="703.50" x2="440.00" y2="707.80" stroke="#8a4fa2" stroke-width="1.15"/>
<line x1="441.75" y1="703.50" x2="441.75" y2="707.80" stroke="#8a4fa2" stroke-width="1.15"/>
<line x1="443.50" y1="703.50" x2="443.50" y2="707.80" stroke="#8a4fa2" stroke-width="1.15"/>
<line x1="445.25" y1="703.50" x2="445.25" y2="707.80" stroke="#8a4fa2" stroke-width="1.15"/>
<line x1="447.00" y1="703.50" x2="447.00" y2="707.80" stroke="#8a4fa2" stroke-width="1.15"/>
<line x1="448.75" y1="703.50" x2="448.75" y2="707.80" stroke="#8a4fa2" stroke-width="1.15"/>
<line x1="450.50" y1="703.50" x2="450.50" y2="707.80" stroke="#8a4fa2" stroke-width="1.15"/>
<line x1="452.25" y1="703.50" x2="452.25" y2="707.80" stroke="#8a4fa2" stroke-width="1.15"/>
<line x1="454.00" y1="703.50" x2="454.00" y2="707.80" stroke="#8a4fa2" stroke-width="1.15"/>
<line x1="455.75" y1="703.50" x2="455.75" y2="707.80" stroke="#8a4fa2" stroke-width="1.15"/>
<rect x="478.30" y="703.90" width="26.10" height="2.40" fill="#a9a9d8"/>
<line x1="484.80" y1="699.00" x2="498.40" y2="713.20" stroke="#b5173a" stroke-width="1.7"/>
<line x1="498.40" y1="699.00" x2="484.80" y2="713.20" stroke="#b5173a" stroke-width="1.7"/>
<line x1="435.20" y1="721.70" x2="435.20" y2="740.40" stroke="#c8102e" stroke-width="1.5"/>
<line x1="427.00" y1="741.00" x2="442.50" y2="741.00" stroke="#c8102e" stroke-width="1.8"/>
<line x1="492.50" y1="768.90" x2="492.50" y2="786.40" stroke="#c8102e" stroke-width="1.5"/>
<line x1="485.00" y1="787.00" x2="499.80" y2="787.00" stroke="#c8102e" stroke-width="1.8"/>
<path d="M491.7,719 L491.7,739.2 L485.2,739.2" fill="none" stroke="#2f3b4c" stroke-width="1.5" stroke-dasharray="3.6,2.6"/>
<path d="M435.2,767.5 L435.2,787.5 L427.0,787.5" fill="none" stroke="#2f3b4c" stroke-width="1.5" stroke-dasharray="3.6,2.6"/>
<ellipse cx="435.20" cy="754.90" rx="14.50" ry="5.90" fill="#ebe8d6" stroke="#555" stroke-width="0.9" stroke-dasharray="2,1.3"/>
<text x="435.20" y="757.40" font-size="6.8" text-anchor="middle" fill="#444" transform="translate(435.20 757.40) scale(1 1.17) translate(-435.20 -757.40)">HIC2</text>
<ellipse cx="492.50" cy="752.70" rx="16.70" ry="8.60" fill="#3aaa35" stroke="none" stroke-width="0.8"/>
<text x="492.50" y="756.20" font-size="9.6" text-anchor="middle" fill="#ffffff" stroke="#ffffff" stroke-width="0.05" transform="translate(492.50 756.20) scale(1 1.17) translate(-492.50 -756.20)">HIC2</text>
<ellipse cx="435.20" cy="803.90" rx="21.50" ry="8.20" fill="#5b2a6e" stroke="none" stroke-width="0.8"/>
<text x="435.20" y="807.30" font-size="9.6" text-anchor="middle" fill="#ffffff" stroke="#ffffff" stroke-width="0.05" transform="translate(435.20 807.30) scale(1 1.17) translate(-435.20 -807.30)" textLength="36.00" lengthAdjust="spacingAndGlyphs">BCL11A</text>
<ellipse cx="492.50" cy="803.30" rx="12.80" ry="5.00" fill="#b4b4e0" stroke="#555" stroke-width="0.9" stroke-dasharray="2,1.3"/>
<text x="492.50" y="805.30" font-size="5.2" text-anchor="middle" fill="#444" transform="translate(492.50 805.30) scale(1 1.17) translate(-492.50 -805.30)">BCL11A</text>
</svg>
<div class="fr"></div>
</body></html>
